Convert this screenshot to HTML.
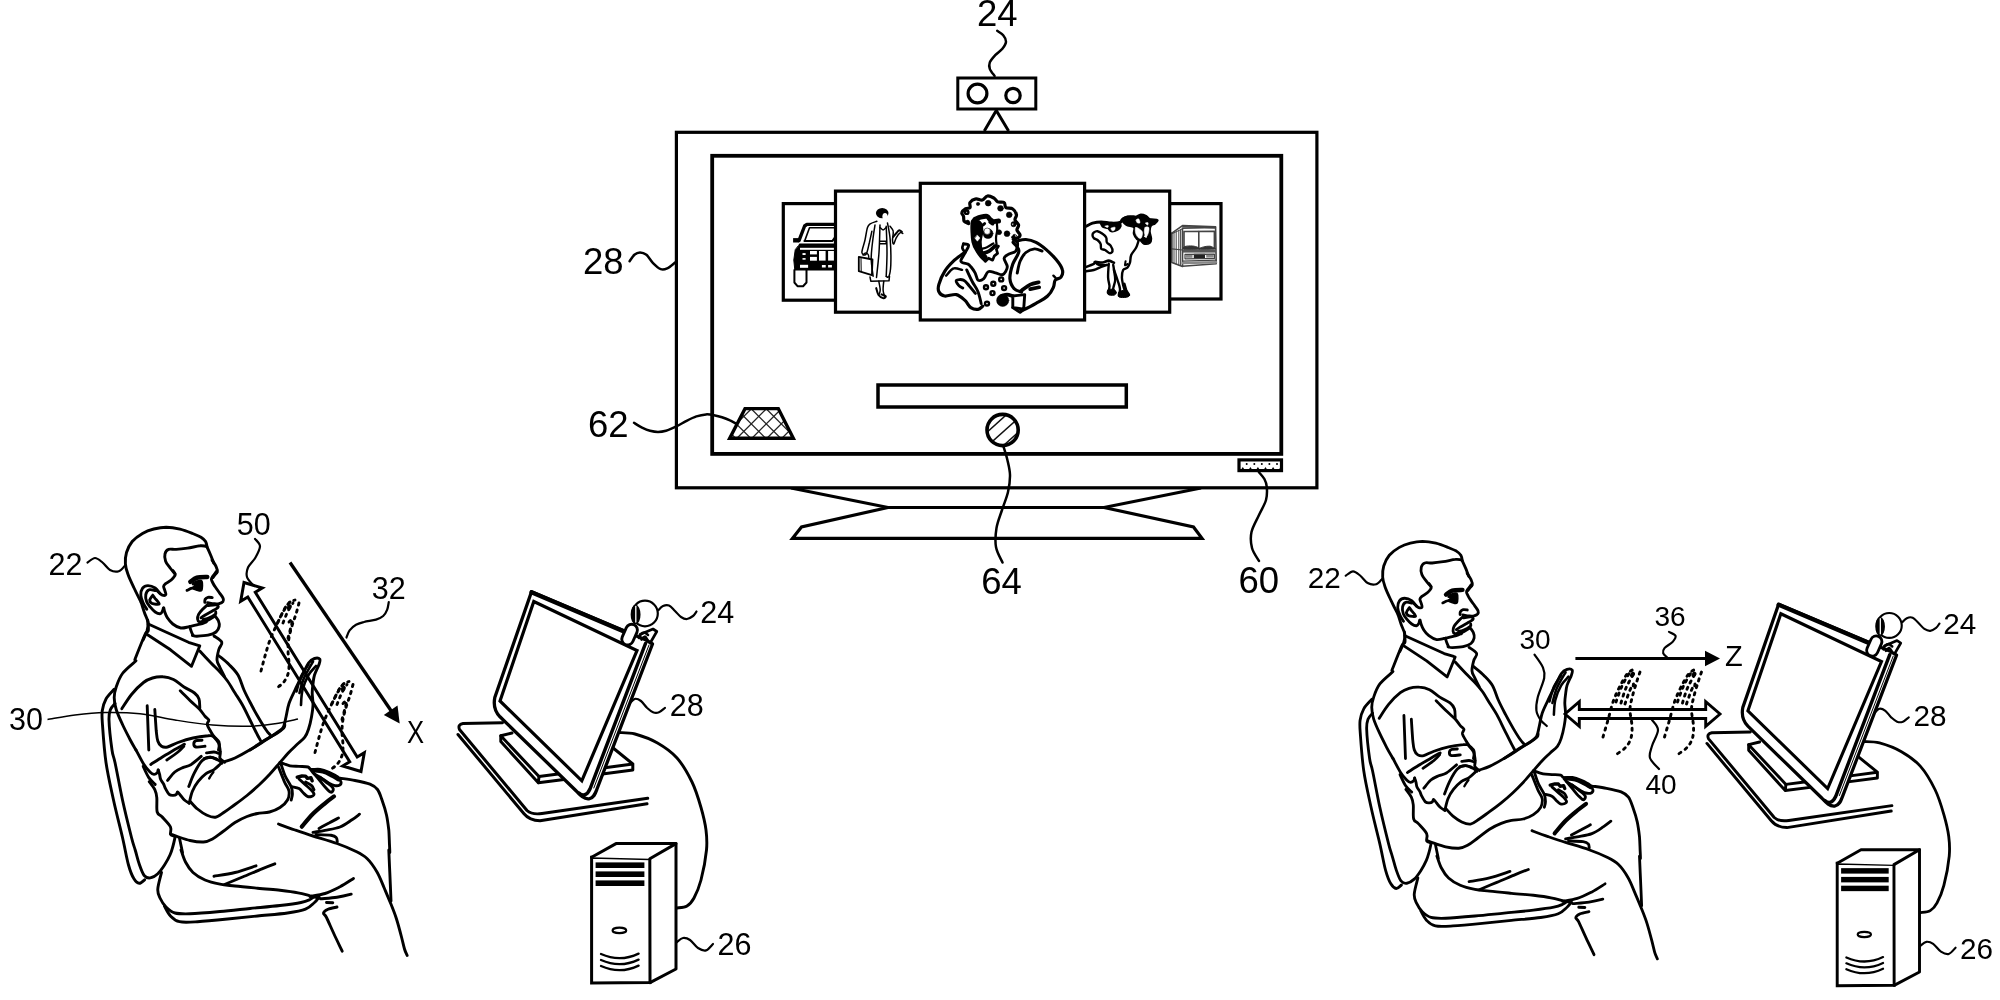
<!DOCTYPE html>
<html><head><meta charset="utf-8"><title>Figure</title>
<style>
html,body{margin:0;padding:0;background:#fff;}
body{width:2000px;height:1000px;overflow:hidden;}
svg{display:block;font-family:"Liberation Sans",sans-serif;will-change:transform;}
</style></head><body>
<svg width="2000" height="1000" viewBox="0 0 2000 1000">
<rect width="2000" height="1000" fill="#fff"/>
<g fill="none" stroke="#000" stroke-width="3.2" stroke-linejoin="miter">
<path d="M791 488L888 507.5L1104 507.5L1201 488"/>
<path d="M888 507.5L801.5 527L792.5 538.3L1202 538.3L1193.5 527L1104 507.5"/>
</g>
<rect x="676.4" y="132.3" width="640.5" height="355.5" fill="#fff" stroke="#000" stroke-width="3.2"/>
<rect x="712.2" y="155.8" width="569.1" height="298.1" fill="#fff" stroke="#000" stroke-width="3.8"/>
<g fill="none" stroke="#000" stroke-width="3">
<path d="M984.3 131L996.3 110.5L1008.6 131"/>
<rect x="957.8" y="78" width="78" height="31" fill="#fff"/>
<circle cx="977.5" cy="93.5" r="9.4" stroke-width="3.2"/>
<circle cx="1013" cy="95.5" r="7.2" stroke-width="3.2"/>
</g>
<g stroke-linecap="round" stroke-linejoin="round">
<rect x="783.3" y="203.6" width="60" height="96.6" fill="#fff" stroke="#000" stroke-width="3.2" stroke-linejoin="miter"/>
<rect x="1160" y="203.6" width="61" height="95.4" fill="#fff" stroke="#000" stroke-width="3.2" stroke-linejoin="miter"/>
<path d="M799 240.6L804.6 226L806.9 224.4L835 224.4" stroke="#000" stroke-width="3.4" fill="none"/><path d="M804.8 240.6L809.5 227.8L835 227.8" stroke="#000" stroke-width="1.6" fill="none"/><path d="M804.4 240.9L832.5 240.9L835 237.2" stroke="#000" stroke-width="2" fill="none"/><rect x="793.1" y="238.1" width="5.9" height="4.4" fill="#000" stroke="none"/><path d="M800 244.6L835 244.6" stroke="#000" stroke-width="2.4" fill="none"/><path d="M798.8 245.6L835 245.6L835 270L794.8 270L793.8 260L795.2 250Z" stroke="#000" stroke-width="1" fill="#000"/><rect x="810" y="251" width="6.9" height="3.4" fill="#fff" stroke="none"/><rect x="810" y="256.9" width="6.9" height="3.8" fill="#fff" stroke="none"/><rect x="819" y="251" width="6.6" height="9.6" fill="#fff" stroke="none"/><rect x="828.1" y="251" width="6.9" height="9.6" fill="#fff" stroke="none"/><rect x="802.5" y="253.1" width="3.1" height="1.9" fill="#fff" stroke="none"/><rect x="802.5" y="258.1" width="3.1" height="1.6" fill="#fff" stroke="none"/><rect x="800" y="264.8" width="8.1" height="3" fill="#fff" stroke="none"/><rect x="821.9" y="265" width="3.8" height="2.5" fill="#fff" stroke="none"/><rect x="828.1" y="265" width="3.8" height="2.5" fill="#fff" stroke="none"/><rect x="800" y="247.8" width="35" height="2" fill="#fff" stroke="none"/><path d="M794.4 270L794.4 282.5L797.5 286.2L803.1 286.2L806.5 282.5L806.5 270" stroke="#000" stroke-width="2" fill="none"/>
<path d="M1182.5 228.1L1215.6 227.5L1216.2 263.8L1182.5 266.2Z" stroke="#444" stroke-width="1.6" fill="none"/><path d="M1171.9 233.1L1182.5 225.6L1215.6 226.9" stroke="#444" stroke-width="1.6" fill="none"/><path d="M1182.8 226.5L1215 227.8" stroke="#444" stroke-width="1.2" fill="none"/><path d="M1171.9 233.1L1171.9 262.5L1182.5 266.5" stroke="#444" stroke-width="1.6" fill="none"/><path d="M1171.9 233.8L1182.5 228.8" stroke="#444" stroke-width="1" fill="none"/><path d="M1174 233.1L1174 263.1" stroke="#444" stroke-width="1" fill="none"/><path d="M1176.2 231.9L1176.2 264" stroke="#444" stroke-width="1" fill="none"/><path d="M1178.8 230.6L1178.8 265" stroke="#444" stroke-width="1" fill="none"/><path d="M1180.6 229.8L1180.6 265.6" stroke="#444" stroke-width="1" fill="none"/><path d="M1171.9 248.8L1182.5 250" stroke="#444" stroke-width="1.2" fill="none"/><path d="M1184 231.5L1214.4 231.2L1214.4 248.8L1184 249Z" stroke="#444" stroke-width="1.6" fill="none"/><path d="M1198.8 231.5L1198.8 248.8" stroke="#444" stroke-width="1.6" fill="none"/><path d="M1184 249C1181.7 248.6 1183.6 247 1185 246.5C1186.4 246 1190.3 245.8 1192.5 246C1194.7 246.2 1197.1 247 1198.1 247.5C1199.2 248 1201.1 248.8 1198.8 249C1196.4 249.2 1186.3 249.4 1184 249Z" stroke="#333" stroke-width="1" fill="#333"/><path d="M1199.4 249C1197.6 248.6 1202 247.3 1203.8 246.9C1205.5 246.4 1208.2 246 1210 246.2C1211.8 246.5 1213.6 247.7 1214.4 248.1C1215.1 248.6 1216.9 248.9 1214.4 249C1211.9 249.1 1201.1 249.4 1199.4 249Z" stroke="#333" stroke-width="1" fill="#333"/><rect x="1182.8" y="249.8" width="33.2" height="2.8" fill="#555" stroke="none"/><rect x="1193.8" y="253.8" width="11.2" height="5" fill="#222" stroke="none"/><path d="M1185 254.4L1214.4 254.1L1214.4 258.4L1185 258.8Z" stroke="#444" stroke-width="1.2" fill="none"/><rect x="1185.6" y="255" width="6.9" height="2.8" fill="#888" stroke="none"/><rect x="1206.2" y="254.8" width="7.5" height="2.8" fill="#888" stroke="none"/><path d="M1182.8 261.2L1216 260.2" stroke="#444" stroke-width="1.2" fill="none"/><path d="M1182.8 263.1L1216 262.2" stroke="#888" stroke-width="2.5" fill="none"/>
<rect x="835.5" y="191.1" width="90" height="121.1" fill="#fff" stroke="#000" stroke-width="3.2" stroke-linejoin="miter"/>
<rect x="1080" y="191.1" width="89.7" height="121.1" fill="#fff" stroke="#000" stroke-width="3.2" stroke-linejoin="miter"/>
<ellipse cx="882.2" cy="213.1" rx="6.3" ry="5.2" fill="#000"/><ellipse cx="885" cy="216.5" rx="2.6" ry="3.6" fill="#fff"/><path d="M876.9 221.2C875.8 221.7 871.8 222.7 870.2 223.8C868.7 224.8 868.4 224.8 867.5 227.5C866.6 230.2 865.9 235.8 865 240C864.1 244.2 861.7 250.2 861.9 252.5C862.1 254.8 865 255.7 866.2 254C867.5 252.3 868.4 246.3 869.4 242.5C870.3 238.7 871.5 233.1 871.9 231.2" stroke="#000" stroke-width="1.5" fill="none"/><path d="M875 225C874.6 227.5 873.4 234.4 872.8 240C872.1 245.6 871.2 252.7 871.2 258.8C871.3 264.8 872.8 273.3 873.1 276.2" stroke="#000" stroke-width="1.5" fill="none"/><path d="M880 225C879.8 229.6 879.6 243.8 879 252.5C878.4 261.2 876.9 273.3 876.5 277.5" stroke="#000" stroke-width="1.5" fill="none"/><path d="M886.2 226.2C886.4 230.6 887 244.2 887 252.5C887 260.8 886.4 272.3 886.2 276.2" stroke="#000" stroke-width="1.5" fill="none"/><path d="M887.5 223.1C888 225.9 889.7 233 890.2 240C890.8 247 891 259 890.8 265C890.5 271 889.8 274.3 889 276.2C888.2 278.2 886.7 276.5 886.2 276.5" stroke="#000" stroke-width="1.5" fill="none"/><path d="M870 276.9L870.8 281.2L889 280.8L889.5 276.2" stroke="#000" stroke-width="1.5" fill="none"/><path d="M880 227.5C880.5 227.9 882.1 230 883.1 230C884.2 230 885.7 227.9 886.2 227.5" stroke="#000" stroke-width="1.5" fill="none"/><path d="M880 241.2L886.2 241.2L886.2 243.8L880 243.8" stroke="#000" stroke-width="1.5" fill="none"/><path d="M858.8 256.9L872.5 259.5L871.9 275.2L858.8 271.2Z" stroke="#000" stroke-width="1.8" fill="none"/><path d="M861 258.1L861.2 271.2" stroke="#000" stroke-width="1" fill="none"/><path d="M863.1 255C863.4 254.7 864.2 253.2 865 253.1C865.8 253 867.5 253.6 868.1 254.4C868.8 255.1 868.6 257 868.8 257.5" stroke="#000" stroke-width="1.4" fill="none"/><path d="M890 226.2C890.5 227.1 892.8 229 893.2 231.2C893.7 233.5 892.4 237.9 892.5 240C892.6 242.1 893.1 244.4 893.8 244C894.4 243.6 895.2 239.6 896.2 237.8C897.3 235.9 898.9 233.5 900 232.8C901.1 232 902.3 233.3 902.8 233.4" stroke="#000" stroke-width="1.5" fill="none"/><path d="M893.1 236.9C893.8 236.1 895.8 233.6 896.9 232.5C897.9 231.4 898.5 230.4 899.4 230.2C900.2 230.1 901.5 231.6 901.9 231.9" stroke="#000" stroke-width="2" fill="none"/><path d="M878.8 281.2C879 282.7 880.2 287.7 880.2 290C880.2 292.3 879 294.4 878.8 295.2" stroke="#000" stroke-width="1.5" fill="none"/><path d="M883.8 281.2C883.6 282.7 883 287.5 883.1 290C883.2 292.5 884.3 295.4 884.5 296.5" stroke="#000" stroke-width="1.5" fill="none"/><path d="M876.2 288.1C876.6 289.3 877.3 293.3 878.5 295C879.7 296.7 882.3 298 883.5 298.2C884.7 298.5 886.1 296.9 885.8 296.2C885.4 295.6 882.2 294.7 881.5 294.4" stroke="#000" stroke-width="2" fill="none"/>
<path d="M1086.2 226.2C1087.3 225.7 1090 223.9 1092.5 223.1C1095 222.4 1098.1 221.9 1101.2 221.9C1104.4 221.9 1108.1 223 1111.2 223.1C1114.4 223.2 1118.1 223.1 1120 222.5C1121.9 221.9 1121.2 220.3 1122.5 219.4C1123.8 218.4 1125.4 217.3 1127.5 216.9C1129.6 216.5 1133.8 216.9 1135 216.9" stroke="#000" stroke-width="3" fill="none"/><path d="M1121.9 219.8C1122.1 218.3 1125.3 217.1 1127.5 216.6C1129.7 216.1 1132.9 217.2 1135 216.9C1137.1 216.5 1138.1 214.6 1140 214.4C1141.9 214.2 1144.6 214.9 1146.2 215.6C1147.9 216.4 1148.1 218 1150 218.8C1151.9 219.5 1156.9 219.2 1157.8 220C1158.6 220.8 1156.1 222.8 1155 223.8C1153.9 224.7 1152.1 224.6 1151.2 225.9C1150.4 227.1 1150 229.1 1150 231.2C1150 233.4 1151.5 236.8 1151.5 238.8C1151.5 240.7 1151.3 242.2 1150 243.1C1148.7 244 1145.4 244.5 1143.8 244C1142.1 243.5 1141.1 241 1140 240.2C1138.9 239.5 1138 240.5 1136.9 239.4C1135.8 238.3 1134 235.7 1133.5 233.8C1133 231.8 1135 228.9 1133.8 227.5C1132.5 226.1 1128.2 226.5 1126.2 225.2C1124.3 224 1121.7 221.2 1121.9 219.8Z" stroke="#000" stroke-width="1.5" fill="#000"/><path d="M1135.6 227.5C1136.4 226.9 1138.9 228.5 1140 229.4C1141.1 230.2 1142.3 231 1142.5 232.5C1142.7 234 1142 237.3 1141.2 238.1C1140.5 239 1139.1 238.3 1138.1 237.5C1137.2 236.7 1136 234.8 1135.6 233.1C1135.2 231.5 1134.9 228.1 1135.6 227.5Z" stroke="#fff" stroke-width="0.5" fill="#fff"/><path d="M1145 227.5C1145.7 226.6 1148.2 226.7 1148.8 227.5C1149.3 228.3 1148.9 230.9 1148.5 232.5C1148.1 234.1 1146.9 236.8 1146.2 236.9C1145.6 237 1144.6 234.7 1144.4 233.1C1144.2 231.6 1144.3 228.4 1145 227.5Z" stroke="#fff" stroke-width="0.5" fill="#fff"/><path d="M1136.2 220C1136.5 219.4 1138.1 218.5 1138.8 219C1139.4 219.5 1140.2 222.1 1140 222.8C1139.8 223.4 1137.9 223.2 1137.2 222.8C1136.6 222.3 1136 220.6 1136.2 220Z" stroke="#fff" stroke-width="0.5" fill="#fff"/><path d="M1145.6 223.1C1145.7 222.7 1147.8 222.4 1148.1 222.8C1148.4 223.1 1147.9 225.2 1147.5 225.2C1147.1 225.3 1145.5 223.5 1145.6 223.1Z" stroke="#fff" stroke-width="0.5" fill="#fff"/><path d="M1144.4 236.5C1144.2 236.1 1145.3 234.8 1145.6 235C1146 235.2 1146.7 237.2 1146.5 237.5C1146.3 237.8 1144.5 236.9 1144.4 236.5Z" stroke="#fff" stroke-width="0.5" fill="#fff"/><path d="M1138.8 240C1138.3 241.2 1137.5 245 1136.2 247.5C1135 250 1132.3 252.5 1131.2 255C1130.2 257.5 1130.6 260.4 1130 262.5C1129.4 264.6 1128.6 266.2 1127.5 267.5C1126.4 268.8 1124.1 268.3 1123.1 270C1122.2 271.7 1121.9 275 1121.9 277.5C1121.9 280 1122.6 282.7 1123.1 285C1123.6 287.3 1124.7 290.2 1125 291.2" stroke="#000" stroke-width="2.4" fill="none"/><path d="M1125.6 261.2C1125.5 261.9 1124.7 264.8 1125 265.2C1125.3 265.7 1127.1 264.2 1127.5 264" stroke="#000" stroke-width="2" fill="none"/><path d="M1100.6 222.8C1101 223.4 1101.9 226 1103.1 226.9C1104.4 227.8 1106.8 227.4 1108.1 228.1C1109.5 228.9 1109.7 231 1111.2 231.2C1112.8 231.5 1115.9 230.6 1117.5 229.8C1119.1 228.9 1120.2 227.4 1120.6 226.2C1121 225.1 1119.9 223.3 1119.8 222.8" stroke="#000" stroke-width="2.2" fill="#000"/><path d="M1105 226.2C1105.1 225.9 1107.7 225.4 1108.1 225.6C1108.6 225.8 1108.3 227.4 1107.8 227.5C1107.2 227.6 1104.9 226.6 1105 226.2Z" stroke="#fff" stroke-width="0.5" fill="#fff"/><path d="M1111.2 228.1C1111.8 227.6 1114.5 226.9 1115 227.2C1115.5 227.6 1114.9 229.7 1114.4 230.2C1113.9 230.8 1112.4 231 1111.9 230.6C1111.4 230.3 1110.7 228.7 1111.2 228.1Z" stroke="#fff" stroke-width="0.5" fill="#fff"/><path d="M1093.8 232.5C1094.6 231.9 1096 231 1097.5 231.2C1099 231.5 1101 232.7 1102.5 233.8C1104 234.8 1105.5 236 1106.2 237.5C1107 239 1106.1 241.1 1106.9 242.5C1107.6 243.9 1109.7 244.2 1110.6 245.6C1111.6 247.1 1112.7 250 1112.5 251.2C1112.3 252.5 1110.6 253.3 1109.4 253.1C1108.1 252.9 1106.4 250.7 1105 250C1103.6 249.3 1102 249.8 1101.2 248.8C1100.5 247.7 1101.2 245.2 1100.6 243.8C1100 242.3 1098.6 240.9 1097.5 240C1096.4 239.1 1094.6 239 1093.8 238.1C1092.9 237.3 1092.5 235.9 1092.5 235C1092.5 234.1 1092.9 233.1 1093.8 232.5Z" stroke="#000" stroke-width="2.4" fill="none"/><path d="M1086.2 266.9C1087.5 266.4 1092.2 264.6 1093.8 263.8C1095.2 262.9 1093.8 262.1 1095.2 261.9C1096.7 261.7 1100.2 262.7 1102.5 262.5C1104.8 262.3 1106.8 260.6 1108.8 260.6C1110.7 260.7 1113.1 262.4 1114 262.8" stroke="#000" stroke-width="2.6" fill="none"/><path d="M1086.2 271.2C1087.5 271 1091.2 270.7 1093.8 270C1096.2 269.3 1099.1 267.7 1101.2 266.9C1103.4 266 1105.9 265.3 1106.9 265" stroke="#000" stroke-width="2.4" fill="none"/><path d="M1095 262.2C1095.6 262.7 1096.8 264.6 1098.8 265C1100.7 265.4 1105.5 264.8 1106.9 264.8" stroke="#000" stroke-width="2" fill="#000"/><path d="M1108.8 263.8C1108.6 266 1108 273.8 1108.1 277.5C1108.2 281.2 1109.5 283.8 1109.5 286.2C1109.5 288.8 1108.4 291.5 1108.1 292.5" stroke="#000" stroke-width="2.4" fill="none"/><path d="M1113.2 265C1113.4 265.8 1113.7 267.5 1114 270C1114.3 272.5 1115.4 276.9 1115.2 280C1115.1 283.1 1113.2 286.7 1113.2 288.8C1113.3 290.8 1115.2 291.9 1115.6 292.5" stroke="#000" stroke-width="2.4" fill="none"/><path d="M1114 270C1114.6 271.7 1116.5 276.9 1117.5 280C1118.5 283.1 1119.8 286.1 1120 288.8C1120.2 291.4 1119.2 294.5 1119 295.6" stroke="#000" stroke-width="2.4" fill="none"/><path d="M1124.4 283.8C1124.7 284.8 1125.5 288.2 1126.2 290C1127 291.8 1128.5 294 1129 294.8" stroke="#000" stroke-width="2.4" fill="none"/><path d="M1107.8 290C1108.7 289.2 1112.4 288.9 1113.8 289.4C1115.1 289.9 1116 292.1 1116 293.1C1116 294.1 1115.1 295 1113.8 295.2C1112.4 295.5 1109 295.2 1108 294.4C1107 293.5 1106.8 290.8 1107.8 290Z" stroke="#000" stroke-width="1" fill="#000"/><path d="M1119 291.9C1120 290.8 1123.2 290.1 1125 290.6C1126.8 291.1 1129.2 293.9 1129.5 295C1129.8 296.1 1128.2 296.9 1126.5 297.2C1124.8 297.6 1120.2 297.8 1119 296.9C1117.8 296 1118 292.9 1119 291.9Z" stroke="#000" stroke-width="1" fill="#000"/>
<rect x="920.3" y="183.3" width="164.3" height="136.7" fill="#fff" stroke="#000" stroke-width="3.2" stroke-linejoin="miter"/>
<path d="M968.6 223.5C967.9 223.2 965.1 222.5 964.2 221.3C963.4 220.1 963.9 217.7 963.5 216.3C963.1 214.8 961.4 213.9 961.8 212.6C962.1 211.4 964.3 209.6 965.7 208.7C967.1 207.9 969.3 208.6 970 207.6C970.8 206.5 969.1 203.9 970 202.5C971 201 973.8 199.3 975.8 198.9C977.9 198.4 980.4 200.5 982.4 200C984.3 199.5 985.5 196.3 987.4 196C989.4 195.6 992.3 197.2 994 198.1C995.7 199.1 995.9 201 997.6 201.8C999.3 202.5 1002.8 201.5 1004.1 202.5C1005.5 203.4 1004.4 206.5 1005.9 207.6C1007.3 208.6 1011.1 207.8 1012.8 209C1014.6 210.2 1016.1 213 1016.5 214.8C1016.8 216.6 1014.6 218.2 1015 219.9C1015.4 221.6 1018.3 223.3 1018.6 225C1018.9 226.7 1016.7 228.4 1016.9 230C1017.1 231.7 1020.2 233.7 1020.1 235.1C1020 236.5 1017.7 237.9 1016.5 238.3C1015.3 238.7 1013.4 237.5 1012.8 237.3" stroke="#000" stroke-width="3.2" fill="none"/><circle cx="988.2" cy="203.2" r="2.9" fill="#000" stroke="#000" stroke-width="0.5"/><circle cx="1000.5" cy="208.3" r="2.9" fill="#000" stroke="#000" stroke-width="0.5"/><circle cx="1009.2" cy="214.8" r="2.9" fill="#000" stroke="#000" stroke-width="0.5"/><circle cx="1013.6" cy="224.2" r="2.6" fill="#000" stroke="#000" stroke-width="0.5"/><circle cx="999.1" cy="232.2" r="2.5" fill="#000" stroke="#000" stroke-width="0.5"/><circle cx="1007" cy="233.7" r="2.9" fill="#000" stroke="#000" stroke-width="0.5"/><circle cx="967.6" cy="222.1" r="2" fill="#000" stroke="#000" stroke-width="0.5"/><circle cx="978" cy="203.9" r="1.7" fill="#000" stroke="#000" stroke-width="0.5"/><circle cx="1014.3" cy="235.8" r="1.5" fill="#000" stroke="#000" stroke-width="0.5"/><circle cx="966.7" cy="212.2" r="1.7" fill="none" stroke="#000" stroke-width="2.4"/><circle cx="1012.8" cy="224.2" r="1" fill="#fff" stroke="#000" stroke-width="0.5"/><circle cx="1015.7" cy="235.8" r="0.9" fill="#fff" stroke="#000" stroke-width="0.5"/><path d="M971.4 222C972 218.3 974.1 219.7 975.8 220C977.5 220.3 980.3 221.7 981.4 223.6C982.5 225.5 982.7 228.7 982.6 231.6C982.5 234.5 981.1 238 981 241.2C980.9 244.4 981.2 248.1 982.2 250.8C983.2 253.5 986.9 255.8 987 257.2C987.1 258.6 984.6 259.9 983 259.2C981.4 258.5 979.2 256.1 977.4 253.2C975.6 250.3 973.2 247.2 972.2 242C971.2 236.8 970.8 225.7 971.4 222Z" stroke="#000" stroke-width="1.5" fill="#000"/><path d="M977.4 235.2L980 238L977.4 241.2L975 238.2Z" stroke="#fff" stroke-width="0.5" fill="#fff"/><path d="M975 219.2C975.9 218.9 978.6 217.7 980.6 217.2C982.6 216.7 985.4 216 987 216.4C988.6 216.8 989.1 218.7 990.2 219.6C991.3 220.5 992 221.4 993.4 221.6C994.8 221.8 997.7 221.1 998.6 221" stroke="#000" stroke-width="4.9" fill="none"/><path d="M979 222C979.5 222.5 981.3 224.9 982.2 225.2C983.1 225.5 984.2 223.9 984.6 223.6" stroke="#000" stroke-width="3" fill="none"/><path d="M990.2 222L992.6 223.6" stroke="#000" stroke-width="3.7" fill="none"/><circle cx="988" cy="233.6" r="5" fill="#000" stroke="#000" stroke-width="0.5"/><circle cx="987.2" cy="231.2" r="3.2" fill="#fff" stroke="#000" stroke-width="0.5"/><path d="M982.6 253.2C983.6 252.9 986.5 252.6 988.6 251.4C990.7 250.2 993.9 246.9 995 246" stroke="#000" stroke-width="3.7" fill="none"/><path d="M981.4 249C982.3 248.7 985 248.1 987 247.2C989 246.3 992.3 244.1 993.4 243.4" stroke="#000" stroke-width="2.2" fill="none"/><path d="M996.8 222C996.8 223.3 997.4 227.3 997.2 230C997.1 232.7 996 235.3 996 238C995.9 240.7 996.6 244.7 996.8 246" stroke="#000" stroke-width="2.2" fill="none"/><path d="M982.2 258L985.4 261.4L988.6 258.2L992.6 260.2L994.4 255.8L997.6 253.4L996.4 249.4L998.4 246.2" stroke="#000" stroke-width="2.7" fill="none"/><path d="M963.5 243.8C964.4 244.1 968.3 243.8 968.6 245.3C968.9 246.7 966.5 249.9 965.3 252.5C964 255.2 960.5 259.3 960.9 261.2C961.3 263.2 966.2 263.2 967.9 264.1C969.6 265.1 969.8 265.6 971.1 267C972.3 268.5 974 270.7 975.1 272.8C976.3 275 976.6 279.1 978 280.1C979.5 281.1 982.1 280 983.8 278.6C985.5 277.2 986.2 272.6 988.2 271.7C990.1 270.7 993 272.3 995.4 272.8C997.8 273.3 1000.7 275.5 1002.7 274.6C1004.7 273.6 1007.1 269.7 1007.3 267C1007.6 264.3 1003.9 260.5 1004.1 258.3C1004.3 256.2 1006.5 255.5 1008.5 254.3C1010.4 253.1 1014.2 253 1015.7 251.1C1017.2 249.1 1017.9 244.6 1017.5 242.7C1017 240.7 1013.8 240 1013.1 239.5" stroke="#000" stroke-width="2.9" fill="none"/><path d="M963.5 243.8C963.3 244.5 962.1 246.7 962.4 248.2C962.6 249.6 964.8 251.8 965.3 252.5" stroke="#000" stroke-width="2.7" fill="none"/><path d="M963.5 253.3C961.8 254.6 956.5 258.2 953.4 261.2C950.2 264.3 947.1 267.5 944.7 271.4C942.2 275.3 939.8 281.1 938.9 284.4C937.9 287.8 937.9 289.8 938.9 291.7C939.8 293.6 941.8 295.6 944.7 296C947.6 296.5 952.9 293.9 956.3 294.6C959.6 295.3 962.5 298.2 965 300.4C967.4 302.6 968.6 306.1 970.8 307.6C972.9 309.1 976 309.6 978 309.4C980 309.1 981.9 306.7 982.7 306.2" stroke="#000" stroke-width="3.2" fill="none"/><path d="M966.7 269.9C967.6 271.9 970.3 277.9 972.2 281.5C974.1 285.2 976.5 288 978 291.7C979.5 295.4 980.7 301.6 981.2 303.6" stroke="#000" stroke-width="2.9" fill="none"/><path d="M962.8 288.1C962.1 287.7 960 286.9 958.9 285.6C957.8 284.3 955.5 281.3 956.3 280.4C957 279.5 961.3 279.2 963.5 280.1C965.7 281 967.3 283.7 969.3 285.9C971.3 288.1 974.4 292.2 975.4 293.4" stroke="#000" stroke-width="2.9" fill="none"/><path d="M946.1 275.7C947.3 274.5 950.7 269.4 953.4 268.5C956 267.5 960.6 269.7 962.1 269.9" stroke="#000" stroke-width="2.4" fill="none"/><path d="M1016 241.2C1017.7 240.9 1022.6 239.3 1025.9 239.5C1029.2 239.7 1032.7 240.7 1036 242.4C1039.4 244.1 1042.8 246.7 1046.2 249.6C1049.6 252.5 1053.6 256.4 1056.3 259.8C1059.1 263.2 1061.7 267 1062.4 269.9C1063.2 272.8 1062.2 275.5 1061 277.2C1059.8 278.9 1056.4 278.4 1055.2 280.1C1053.9 281.8 1054.7 284.7 1053.4 287.3C1052.2 290 1050.5 293.4 1047.6 296C1044.7 298.7 1040.4 300.8 1036 303.3C1031.7 305.8 1024 309.6 1021.5 310.8" stroke="#000" stroke-width="3.2" fill="none"/><path d="M1017.2 273.1C1017.7 271.1 1018.6 264.7 1020.1 261.2C1021.5 257.8 1023.5 254.6 1025.9 252.5C1028.3 250.5 1031.9 249.1 1034.6 248.9C1037.3 248.7 1040.9 250.7 1042.1 251.1" stroke="#000" stroke-width="2.9" fill="none"/><path d="M1013.1 242.4C1014.1 243.8 1019 247.4 1018.9 251.1C1018.9 254.7 1014.3 259.5 1012.8 264.1C1011.3 268.7 1009.7 274.5 1009.9 278.6C1010.2 282.7 1012.3 286.6 1014.3 288.8C1016.2 291 1020.3 291.4 1021.5 292" stroke="#000" stroke-width="3.2" fill="none"/><path d="M1021.5 290.5C1023 289.6 1027.4 286.1 1030.2 284.7C1033.1 283.3 1037.2 282.7 1038.7 282.3" stroke="#000" stroke-width="3.7" fill="none"/><path d="M1030.2 289.1L1039.2 287.3" stroke="#000" stroke-width="3.7" fill="none"/><path d="M1053.4 275.7L1055.6 277.9" stroke="#000" stroke-width="2.4" fill="none"/><circle cx="986" cy="287.3" r="2" fill="none" stroke="#000" stroke-width="2.4"/><circle cx="993.3" cy="283.7" r="2" fill="none" stroke="#000" stroke-width="2.4"/><circle cx="1001.2" cy="279.4" r="2" fill="none" stroke="#000" stroke-width="2.4"/><circle cx="992.5" cy="293.1" r="2" fill="none" stroke="#000" stroke-width="2.4"/><circle cx="1004.1" cy="288.1" r="2" fill="none" stroke="#000" stroke-width="2.4"/><circle cx="987" cy="303.6" r="2" fill="none" stroke="#000" stroke-width="2.4"/><circle cx="1002.7" cy="300.4" r="6.1" fill="#000" stroke="#000" stroke-width="0.5"/><path d="M1001.2 296C1002.2 295.8 1005.1 294.6 1007 294.6C1009 294.6 1011.9 295.8 1012.8 296" stroke="#000" stroke-width="3.7" fill="none"/><path d="M1012.8 296L1024.7 294.6L1023.7 309.1L1012.8 307.6Z" stroke="#000" stroke-width="2.9" fill="#fff"/><path d="M1012.8 307.6L1020.1 312.3L1023.7 309.1" stroke="#000" stroke-width="2.9" fill="none"/>
</g>
<rect x="878" y="385" width="248.3" height="22" fill="#fff" stroke="#000" stroke-width="3.5"/>
<defs><clipPath id="trapclip"><path d="M745 408.6L778.3 408.6L793.3 438.2L729.7 438.2Z"/></clipPath></defs>
<g clip-path="url(#trapclip)" stroke="#222" stroke-width="1.3" fill="none">
<path d="M672.4 405L712.4 445"/>
<path d="M695.2 405L655.2 445"/>
<path d="M687.4 405L727.4 445"/>
<path d="M710.2 405L670.2 445"/>
<path d="M702.4 405L742.4 445"/>
<path d="M725.2 405L685.2 445"/>
<path d="M717.4 405L757.4 445"/>
<path d="M740.2 405L700.2 445"/>
<path d="M732.4 405L772.4 445"/>
<path d="M755.2 405L715.2 445"/>
<path d="M747.4 405L787.4 445"/>
<path d="M770.2 405L730.2 445"/>
<path d="M762.4 405L802.4 445"/>
<path d="M785.2 405L745.2 445"/>
<path d="M777.4 405L817.4 445"/>
<path d="M800.2 405L760.2 445"/>
<path d="M792.4 405L832.4 445"/>
<path d="M815.2 405L775.2 445"/>
<path d="M807.4 405L847.4 445"/>
<path d="M830.2 405L790.2 445"/>
<path d="M822.4 405L862.4 445"/>
<path d="M845.2 405L805.2 445"/>
</g>
<path d="M745 408.6L778.3 408.6L793.3 438.2L729.7 438.2Z" fill="none" stroke="#000" stroke-width="3.4"/>
<defs><clipPath id="c64"><circle cx="1002.6" cy="430" r="15.6"/></clipPath></defs>
<g clip-path="url(#c64)" stroke="#111" stroke-width="1.5" fill="none">
<path d="M978.5 439.8L1015.7 406.4"/>
<path d="M985.5 447.6L1022.7 414.2"/>
<path d="M992.5 455.4L1029.7 422"/>
</g>
<circle cx="1002.6" cy="430" r="15.6" fill="none" stroke="#000" stroke-width="3.6"/>
<rect x="1239" y="459.9" width="42.5" height="10.7" fill="#fff" stroke="#000" stroke-width="3.2"/>
<circle cx="1246.7" cy="464.1" r="1" fill="#000"/>
<circle cx="1254.3" cy="464.1" r="1" fill="#000"/>
<circle cx="1261.8" cy="464.1" r="1" fill="#000"/>
<circle cx="1269.4" cy="464.1" r="1" fill="#000"/>
<circle cx="1277" cy="464.1" r="1" fill="#000"/>
<path d="M1241.2 469.5L1242.8 467L1244.4 469.5Z" fill="#000"/>
<path d="M1248.8 469.5L1250.4 467L1252 469.5Z" fill="#000"/>
<path d="M1256.3 469.5L1257.9 467L1259.5 469.5Z" fill="#000"/>
<path d="M1263.9 469.5L1265.5 467L1267.1 469.5Z" fill="#000"/>
<path d="M1271.5 469.5L1273.1 467L1274.7 469.5Z" fill="#000"/>
<path d="M1279 469.5L1280.6 467L1282.2 469.5Z" fill="#000"/>
<g fill="none" stroke="#000" stroke-width="2.5" stroke-linecap="round">
<path d="M997.2 30.8C998.2 31.5 1001.7 33.4 1003.2 35.2C1004.7 37 1006.1 39.3 1006 41.6C1005.9 43.9 1004.2 46.5 1002.4 48.8C1000.6 51.1 997.3 52.9 995.2 55.2C993.1 57.5 990.7 60.1 989.8 62.4C988.9 64.7 989 66.5 989.8 68.8C990.6 71.1 993.8 74.8 994.6 76"/>
<path d="M634 422.8C635.3 423.6 639.3 426.3 642 427.6C644.7 428.9 647.3 430.1 650 430.8C652.7 431.5 655.3 432 658 432C660.7 432 662.9 431.7 666 430.8C669.1 429.9 673.1 428 676.4 426.4C679.7 424.8 682.7 422.9 686 421.2C689.3 419.5 693.1 417.5 696.4 416.4C699.7 415.3 703.1 414.6 706 414.4C708.9 414.2 711.3 414.7 714 415.2C716.7 415.7 719.3 416.3 722 417.2C724.7 418.1 727.7 419.3 730 420.4C732.3 421.4 735 423 736 423.5"/>
<path d="M1003.5 446.5C1004.1 448.8 1006.3 455.2 1007.4 460C1008.5 464.8 1009.9 469.7 1010 475C1010.1 480.3 1009.3 486.2 1008 492C1006.7 497.8 1003.9 504 1002 510C1000.1 516 997.5 521.8 996.5 528C995.5 534.2 995 541.2 996 547C997 552.8 1001.4 559.9 1002.5 562.5"/>
<path d="M1259 472.3C1259.9 473.4 1263.1 476.6 1264.4 479C1265.7 481.4 1266.5 483.5 1266.8 487C1267.1 490.5 1267.3 495.3 1266 500C1264.7 504.7 1261.4 509.7 1259 515C1256.6 520.3 1252.7 526.5 1251.5 532C1250.3 537.5 1250.8 543.2 1252 548C1253.2 552.8 1257.8 558.8 1259 561"/>
<path d="M629.6 261.2C630.4 260.1 632.7 256.3 634.4 254.8C636.1 253.3 638 252.4 640 252.4C642 252.4 644.3 253.1 646.4 254.8C648.5 256.5 650.4 260.4 652.8 262.8C655.2 265.2 658.4 268.3 660.8 269.2C663.2 270.1 664.8 269.5 667.2 268.4C669.6 267.3 673.7 263.6 675 262.6"/>
</g>
<g font-size="36.5" fill="#000" text-anchor="middle">
<text x="997.3" y="26">24</text>
<text x="603.2" y="274">28</text>
<text x="608.2" y="436.8">62</text>
<text x="1001.6" y="594">64</text>
<text x="1258.8" y="593">60</text>
</g>
<g fill="none" stroke="#000" stroke-linecap="round" stroke-linejoin="round">
<path d="M141.2 602.5C140 600 136 592.3 133.8 587.5C131.5 582.7 129.1 577.7 127.8 573.8C126.4 569.8 125.6 567.3 125.4 563.8C125.2 560.2 125.4 556.2 126.5 552.5C127.6 548.8 129.6 544.7 132.2 541.5C134.9 538.3 138.9 535.5 142.5 533.4C146.1 531.3 149.8 530 153.8 529C157.7 528 161.9 527.2 166.2 527.2C170.6 527.3 175.6 528.1 180 529.1C184.4 530.2 189 532.1 192.5 533.5C196 534.9 198.8 535.9 201 537.2C203.2 538.6 204.6 539.8 205.6 541.5C206.6 543.2 206.9 546.3 207.1 547.2" stroke-width="2.9"/>
<path d="M207.1 547.2C207.7 548.5 209.5 552.4 210.6 555C211.7 557.6 213.2 561.8 213.8 563.1" stroke-width="2.9"/>
<path d="M212 560C212.7 561.1 215.1 564.4 216 566.4C216.9 568.4 217.7 570.4 217.3 572C216.8 573.6 214.2 574.8 213.2 576C212.2 577.2 211.3 577.9 211.4 579.2C211.4 580.5 212.7 582.5 213.4 584C214.2 585.5 214.9 586.4 216 588C217.1 589.6 218.8 591.9 220 593.6C221.2 595.3 222.7 597.1 223.2 598.4C223.7 599.7 223.5 600.7 222.9 601.6C222.2 602.5 220.6 603.2 219.2 603.6C217.8 604 216.3 603.9 214.4 603.8C212.5 603.6 208.7 602.8 207.6 602.6" stroke-width="2.9"/>
<path d="M216.4 572L212.8 577.2" stroke-width="3.6"/>
<path d="M205.6 546.2C204.7 546.2 203 545.4 200 545.8C197 546.1 191.5 547.5 187.5 548.1C183.5 548.7 179.4 549.2 176.2 549.4C173.1 549.6 170.4 548.6 168.5 549.4C166.6 550.1 165.5 551.8 165 553.8C164.5 555.7 164.8 559 165.6 561.2C166.4 563.5 168.2 565.4 169.8 567.5C171.3 569.6 174.1 572.7 175 573.8" stroke-width="2.9"/>
<path d="M172.8 570.4C173.2 571.1 175.5 573.2 175.2 574.8C174.9 576.4 172.8 578.5 171.2 580C169.6 581.5 166.9 582.5 165.6 583.6C164.3 584.7 163.7 585.3 163.6 586.4C163.5 587.5 164.4 589 164.8 590.4C165.2 591.8 166.2 593.8 165.8 594.6C165.4 595.4 163.6 595.6 162.4 595.2C161.2 594.8 159.6 593 158.4 592C157.2 591 155.7 589.5 155.2 589" stroke-width="2.9"/>
<path d="M160 593.6C159.2 592.7 157.2 589.3 155.2 588C153.2 586.7 150.1 585.6 148 585.6C145.9 585.6 143.8 586.6 142.6 588.2C141.4 589.8 140.7 592.7 140.8 595.2C140.9 597.7 142.2 600.9 143.2 603.2C144.2 605.5 146.2 608.2 146.8 609.2" stroke-width="2.9"/>
<path d="M155.2 590.6C154.2 590.4 150.5 589.1 149 589.8C147.4 590.4 146.2 592.6 145.8 594.6C145.4 596.5 145.8 599.5 146.6 601.6C147.3 603.7 149 605.5 150.4 607.2C151.8 608.9 153.6 610.9 155.2 612C156.8 613.1 158.8 613.9 160 613.8C161.2 613.7 161.8 612.3 162.4 611.4C163 610.4 163.2 608.6 163.4 608" stroke-width="2.9"/>
<path d="M152.8 595.2C152.3 596 149.9 598.6 149.8 600C149.6 601.4 150.4 602.7 152 603.4C153.6 604 158.7 604.8 159.2 604C159.7 603.2 156.3 600 155.2 598.6C154.1 597.1 153.2 595.8 152.8 595.2" stroke-width="2.9"/>
<path d="M163.8 608C164 608.7 164.2 610.4 164.8 612C165.4 613.6 166 615.8 167.4 617.8C168.7 619.8 170.6 622.3 172.8 624C175 625.7 178 627.6 180.8 628C183.6 628.4 186.4 627.2 189.6 626.6C192.8 625.9 197.2 625 200 624.2C202.8 623.4 205.3 622.2 206.4 621.8" stroke-width="2.9"/>
<path d="M215.2 616C215.7 616.8 217.7 619.1 218.4 620.8C219.1 622.5 219.6 624.5 219.2 626.4C218.8 628.3 217.9 630.5 216 632C214.1 633.5 211.2 634.5 208 635.2C204.8 635.9 199.4 636.1 196.8 636.2C194.2 636.2 193.1 635.5 192.4 635.4" stroke-width="2.9"/>
<path d="M189.6 626.6C189.9 627.3 190.6 629.7 191.2 631.2C191.8 632.7 192.7 634.7 193 635.4" stroke-width="2.9"/>
<path d="M207.4 604.8C206.5 605.6 203.9 608 202.4 609.6C200.9 611.2 199.4 612.8 198.6 614.4C197.8 616 197.5 618 197.6 619.2C197.7 620.4 198.4 621.5 199.4 621.8C200.3 622.1 202.6 621.1 203.2 621" stroke-width="2.9"/>
<path d="M208 605.6C209.3 605.5 214.3 604.5 216 604.8C217.7 605.1 218.7 606.1 218.1 607.2C217.4 608.3 214.2 609.9 212 611.2C209.8 612.5 206.6 614.1 204.8 615.2C203 616.3 201.6 617.3 201 617.8" stroke-width="2.9"/>
<path d="M203.2 619.4C204 619.2 206 619.2 208 618.4C210 617.6 213.9 615.5 215.2 614.4C216.5 613.3 215.6 612.4 215.7 612" stroke-width="2.9"/>
<path d="M202.6 621.8C203.5 621.5 206 621.1 208 620.2C210 619.2 213.5 616.8 214.6 616.2" stroke-width="2.9"/>
<path d="M190.4 581.8C191.5 581.1 194 578.6 196.8 577.8C199.6 577 205.5 577.1 207.2 577" stroke-width="4.6"/>
<path d="M187 590.4C187.9 590 190.4 588.6 192 588.2C193.6 587.7 196 587.7 196.8 587.6" stroke-width="2.8"/>
<path d="M192.4 584C192.7 583.2 195.2 581.5 196.8 581C198.4 580.5 201.2 579.4 202 581C202.8 582.5 202.6 588.9 201.8 590.4C200.9 591.9 198.4 590.6 196.8 590.2C195.2 589.8 192.7 588.8 192.4 588C192.1 587.2 195.2 586.3 195.2 585.6C195.2 584.9 192.1 584.8 192.4 584Z" stroke-width="1.5" fill="#000"/>
<path d="M204.8 602.4C204.9 601.9 204.6 600.2 205.1 599.4C205.7 598.5 206.8 597.6 208 597.3C209.2 597 211.5 597.5 212.2 597.6" stroke-width="2.9"/>
<path d="M141.2 602.5C141.8 604.2 143.2 609.2 144.4 612.5C145.5 615.8 147.7 619.4 148.1 622.5C148.5 625.6 147.7 628.3 146.9 631.2C146 634.2 143.8 638.5 143.1 640" stroke-width="2.9"/>
<path d="M147.7 620.2C147.8 622 148.8 628.4 148.3 630.8C147.9 633.1 147.2 629.7 145 634.5C142.8 639.3 136.5 655.5 134.8 659.7" stroke-width="2.9"/>
<path d="M136 660.8C133.8 662.9 125.8 669.1 122.5 673.5C119.2 677.9 117.6 683 116.2 687C114.8 691 114.2 693.8 114.2 697.5C114.2 701.2 114.8 705 116.2 709.5C117.6 714 120.2 719.5 122.5 724.5C124.8 729.5 127.8 735.2 130 739.5C132.2 743.8 135 748.2 136 750" stroke-width="2.9"/>
<path d="M148.3 624L167.5 632.7L188.5 642.3L198.2 645.3" stroke-width="2.9"/>
<path d="M146.8 634.2L170.5 649.8L191.5 666.3L199.8 645.8" stroke-width="2.9"/>
<path d="M214 636C215.3 637 221 640 221.8 642.3C222.6 644.5 219.6 646.5 218.8 649.5C218 652.5 216.8 657 217 660C217.2 663 218.8 664.8 220 667.5C221.2 670.2 223.8 675 224.5 676.5" stroke-width="2.9"/>
<path d="M199.8 651C201.6 653 207.6 659.5 211 663C214.4 666.5 217.2 669 220 672C222.8 675 225 677.5 227.5 681C230 684.5 232.5 689 235 693C237.5 697 240 700.5 242.5 705C245 709.5 247.5 715 250 720C252.5 725 255.6 731.4 257.5 735C259.4 738.6 260.6 740.6 261.2 741.8" stroke-width="2.9"/>
<path d="M218.5 655.5C220.2 657 225.8 661.2 229 664.5C232.2 667.8 235.5 670.8 238 675C240.5 679.2 241.8 685 244 690C246.2 695 249 700.2 251.5 705C254 709.8 256.5 714.2 259 718.5C261.5 722.8 264.6 727.8 266.5 730.5C268.4 733.2 269.6 734.2 270.2 735" stroke-width="2.9"/>
<path d="M121.8 708.8C123.4 706.4 127.9 698.9 131.5 694.5C135.1 690.1 140 685.2 143.5 682.5C147 679.8 149.2 679 152.5 678C155.8 677 159.5 676.5 163 676.8C166.5 677 170 677.8 173.5 679.5C177 681.2 180.5 684.8 184 687C187.5 689.2 192 691 194.5 693C197 695 198.1 696.5 199 699C199.9 701.5 199.6 706.5 199.8 708" stroke-width="2.9"/>
<path d="M180.2 690.8C181.9 692.4 186.8 697.4 190 700.5C193.2 703.6 197.2 706.9 199.8 709.5C202.2 712.1 203.5 714.5 205 716.2C206.5 718 208.4 718.6 208.8 720C209.1 721.4 206.9 722.5 207.2 724.5C207.6 726.5 209.9 730 211 732C212.1 734 212.6 734.8 214 736.5C215.4 738.2 218.5 740.2 219.2 742.5C220 744.8 218.6 748.8 218.5 750" stroke-width="2.9"/>
<path d="M147.2 705.8L148.8 750" stroke-width="2.9"/>
<path d="M154.8 709.5C155 713 155.8 725.2 156.2 730.5C156.8 735.8 156.9 738.4 157.8 741C158.6 743.6 159.9 745.2 161.5 746.2C163.1 747.2 164.8 747.6 167.5 747C170.2 746.4 173.8 744 178 742.5C182.2 741 188 739.1 193 738C198 736.9 204.8 736.1 208 735.8C211.2 735.4 211.8 735.8 212.5 735.8" stroke-width="2.9"/>
<path d="M202 740.2C201 740.3 197.4 740.1 196 740.7C194.6 741.3 193.8 743 193.8 744C193.8 745 194.1 746.6 196 747C197.9 747.4 203.5 746.4 205 746.2" stroke-width="2.9"/>
<path d="M250 750C252 748.8 257 745.8 262 742.5C267 739.2 276.4 733.2 280 730.5C283.6 727.8 282.8 728.2 283.8 726C284.8 723.8 285.1 720.8 286 717C286.9 713.2 287.5 708 289 703.5C290.5 699 292.8 694.8 295 690C297.2 685.2 300.2 679.5 302.5 675C304.8 670.5 306.5 665.8 308.5 663C310.5 660.2 312.6 659.1 314.5 658.5C316.4 657.9 319 658.2 319.8 659.2C320.5 660.2 319.9 661.9 319 664.5C318.1 667.1 315.5 671.8 314.5 675C313.5 678.2 313.4 681 313 684C312.6 687 312.2 689.5 312.2 693C312.2 696.5 313.1 701 313 705C312.9 709 312.2 713 311.5 717C310.8 721 309.6 725.9 308.5 729.3C307.4 732.7 306.6 734.8 304.8 737.2C302.9 739.8 299.9 741.8 297.2 744.3C294.6 746.8 291.9 749.2 289 752.2C286.1 755.3 281.5 760.8 280 762.5" stroke-width="2.9"/>
<path d="M299.5 693C300.2 690.5 301.8 683.2 304 678C306.2 672.8 311.5 664.2 313 661.5" stroke-width="2.6"/>
<path d="M301 705C301.2 702.5 301.2 695 302.5 690C303.8 685 306.2 679 308.5 675C310.8 671 314.8 667.5 316 666" stroke-width="2.6"/>
<path d="M296.5 691.5C297.2 689 299 681 301 676.5C303 672 307.2 666.5 308.5 664.5" stroke-width="2.6"/>
<path d="M114.2 689.2C112.9 690.9 108 695.4 106 699C104 702.6 102.8 706.7 102.2 711C101.7 715.3 101.9 716.4 102.5 725C103.1 733.6 104.2 750 106 762.5C107.8 775 110.8 787.5 113.5 800C116.2 812.5 120 826.7 122.5 837.5C125 848.3 126.6 858.2 128.5 865C130.4 871.8 131.9 875.5 133.8 878.5C135.6 881.5 137.5 883.1 139.3 883.3C141.1 883.5 143.8 880.3 144.7 879.7" stroke-width="2.9"/>
<path d="M115 703.5C114.2 704.5 111.5 706.8 110.5 709.5C109.5 712.2 108.8 713.2 109 720C109.2 726.8 111 742.9 112 750C113 757.1 113.2 754.2 115 762.5C116.8 770.8 119.8 787.5 122.5 800C125.2 812.5 129.4 829.2 131.5 837.5C133.6 845.8 133.9 845.5 135.2 850C136.6 854.5 137.8 860 139.3 864.2C140.8 868.5 142.4 873.2 144.2 875.5C146.1 877.8 148 878.2 150.2 877.9C152.5 877.6 155.4 875.9 157.8 873.7C160.1 871.6 162.4 868.2 164.5 865C166.6 861.8 168.8 857.7 170.2 854.5C171.6 851.3 172.2 848.8 173 846C173.8 843.2 174.7 838.9 175 837.5" stroke-width="2.9"/>
<path d="M136 750C137.3 752.3 141.3 760.3 143.6 764C145.9 767.7 148.3 770.3 150 772C151.7 773.7 152.8 774.3 154 774.4C155.2 774.5 156.5 773.5 157.2 772.8C157.9 772.1 158 770.5 158.2 770" stroke-width="2.9"/>
<path d="M158.2 770C158.4 770.7 159.2 772.9 159.6 774.4C160 775.9 159.9 777.6 160.6 779.2C161.2 780.8 162.8 782.5 163.6 784C164.4 785.5 164.3 786.3 165.2 788C166.1 789.7 167.9 793.2 169.2 794.4C170.5 795.6 172 795.4 173.2 795.4C174.4 795.4 175.7 795 176.4 794.4C177.1 793.8 176.9 791.9 177.6 792C178.3 792.1 179.3 793.9 180.4 795.2C181.5 796.5 182.9 798.7 184.4 800C185.9 801.3 188.4 802.7 189.2 803.2" stroke-width="2.9"/>
<path d="M143.2 766.4C144.1 768.3 146.8 774.6 148.8 777.6C150.8 780.6 154.1 783.3 155.2 784.4" stroke-width="2.9"/>
<path d="M149.2 781.6C150.1 782.9 153.5 786.9 154.8 789.6C156.1 792.3 156.4 793.9 156.8 797.6C157.2 801.3 156.3 808.8 157.2 812C158.1 815.2 159.8 814.3 162 816.8C164.2 819.3 169.1 824 170.5 827C171.9 830 169.8 833 170.5 834.5C171.2 836 174.2 836 175 836.3" stroke-width="2.9"/>
<path d="M150.8 764.4C152.7 763.2 158 759.7 162 757.2C166 754.7 171.1 751.8 174.8 749.6C178.5 747.4 182.8 745.1 184.4 744.2" stroke-width="2.9"/>
<path d="M166.8 760C168.7 758.7 175.2 754.3 178 752C180.8 749.7 182.8 747.2 183.8 746.2" stroke-width="2.9"/>
<path d="M167.6 780.4C168.8 779 172.3 774.1 174.8 772C177.3 769.9 180.1 768.8 182.8 767.6C185.5 766.4 187.7 766.7 190.8 764.8C193.9 762.9 199.5 757.8 201.2 756.4" stroke-width="2.9"/>
<path d="M188.8 786.4C189.7 784.3 191.8 777.9 194 773.6C196.2 769.3 199.3 763.5 202 760.8C204.7 758.1 207.3 757.3 210 757.2C212.7 757.1 216 759 218 760C220 761 221.3 762.7 222 763.2" stroke-width="2.9"/>
<path d="M189.2 803.2C189.7 801.2 190.9 794.8 192.4 791.2C193.9 787.6 195.7 784.5 198 781.6C200.3 778.7 203.3 775.6 206 773.6C208.7 771.6 211.6 771.2 214 769.6C216.4 768 219.3 764.9 220.4 764" stroke-width="2.9"/>
<path d="M204.4 758.4C205.5 758.2 208.8 757.1 210.8 757.2C212.8 757.3 215.5 758.5 216.4 758.8" stroke-width="2.9"/>
<path d="M209.2 778.4C209.6 777.7 210.9 775.5 211.6 774.4C212.3 773.3 213.1 772.4 213.4 772" stroke-width="2.4"/>
<path d="M212.5 735.5C213.5 736.8 217.2 740.2 218.5 743C219.8 745.8 220.1 749.5 220.3 752C220.6 754.5 219.3 756.6 220 758.3C220.7 760 223.8 761.6 224.5 762.2" stroke-width="2.9"/>
<path d="M206.5 752.9C207.8 752.8 211.9 751.9 214 752C216.1 752.1 218.4 753.2 219.2 753.5" stroke-width="2.9"/>
<path d="M224.5 761.8C226.2 761.1 230.8 760 235 758C239.2 756 245 752.8 250 749.8C255 746.8 260.5 742.8 265 740C269.5 737.2 273.9 735.2 277 733.2C280.1 731.2 282.4 729.4 283.8 728C285.1 726.6 284.6 725.5 284.8 725" stroke-width="2.9"/>
<path d="M190.3 801.5C191.5 802.8 194.8 806.8 197.5 809C200.2 811.2 203.5 813.6 206.5 815C209.5 816.4 212.5 817.8 215.5 817.2C218.5 816.8 221.2 814.1 224.5 812C227.8 809.9 231.2 807.2 235 804.5C238.8 801.8 243 798.8 247 795.5C251 792.2 255.2 788.5 259 785C262.8 781.5 266 778.2 269.5 774.5C273 770.8 278.2 764.5 280 762.5" stroke-width="2.9"/>
<path d="M278.5 767C279.5 769.5 282.8 778 284.5 782C286.2 786 288.5 788 289 791C289.5 794 289 797.2 287.5 800C286 802.8 283 805.5 280 807.5C277 809.5 273.2 811 269.5 812C265.8 813 261.2 812.8 257.5 813.5C253.8 814.2 250.8 815 247 816.5C243.2 818 239 820 235 822.5C231 825 226.8 828.8 223 831.5C219.2 834.2 215.8 837.2 212.5 839C209.2 840.8 207.2 841.8 203.5 842C199.8 842.2 194.2 841.4 190 840.5C185.8 839.6 181 837.8 178 836.8C175 835.8 173 834.9 172 834.5" stroke-width="2.9"/>
<path d="M281 762.8C282.5 763.3 287 765.2 290 765.8C293 766.4 296 766.2 299 766.4C302 766.6 306 766.5 308 767C310 767.5 309 769 311 769.4C313 769.8 317 768.9 320 769.4C323 769.9 326 771.1 329 772.4C332 773.7 336 775.6 338 777.2C340 778.8 340.7 780.7 341 782C341.3 783.3 340.8 784.4 339.8 785C338.8 785.6 336.8 785.9 335 785.6C333.2 785.3 331.5 784.6 329 783.2C326.5 781.8 322.5 778.8 320 777.2C317.5 775.6 315.5 774.8 314 773.6C312.5 772.4 311.5 770.6 311 770" stroke-width="2.9"/>
<path d="M312.8 770.3C314.5 770.5 319.8 770.6 323 771.5C326.2 772.4 329.4 774.2 332 775.5C334.6 776.8 337.5 778.7 338.6 779.3" stroke-width="4.2"/>
<path d="M314 773.6C315 774.8 318 778.4 320 780.8C322 783.2 324.2 786.1 326 788C327.8 789.9 329.6 791.9 330.8 792.2C332 792.5 333.1 790.7 333.3 789.8C333.5 788.9 333.2 788.1 332 786.8C330.8 785.5 328 783.6 326 782C324 780.4 321 778 320 777.2" stroke-width="2.9"/>
<path d="M297.2 777.2L302 776L305.6 776.1L307.4 778.4L311 777.8L312.2 780.8" stroke-width="3.4"/>
<path d="M299 779C300 779.9 303 782.6 305 784.4C307 786.2 309.5 788.2 311 789.8C312.5 791.4 313.9 792.9 314 794C314.1 795.1 312.7 796 311.6 796.4C310.5 796.8 308.8 797 307.4 796.4C306 795.8 304.6 794.1 303.2 792.8C301.8 791.5 300.8 789.6 299 788.6C297.2 787.6 293.5 787.1 292.4 786.8" stroke-width="2.9"/>
<path d="M305.6 782C306.6 782.6 310.2 784.3 311.6 785.6C313 786.9 313.6 789.1 314 789.8" stroke-width="2.9"/>
<path d="M281 764C281.7 766 283.5 772.2 285.2 776C286.9 779.8 290 783.8 291.2 786.8C292.4 789.8 292.4 791.8 292.4 794C292.4 796.2 291.4 799 291.2 800" stroke-width="2.9"/>
<path d="M340 778.2C342.5 778.6 350 779.5 355 780.5C360 781.5 366.2 782.8 370 784.2C373.8 785.8 375.5 786.9 377.5 789.5C379.5 792.1 380.5 795.8 382 800C383.5 804.2 385.4 810 386.5 815C387.6 820 388.2 825 388.8 830C389.2 835 389.3 841.2 389.5 845C389.7 848.8 389.8 851.2 389.8 852.5" stroke-width="2.9"/>
<path d="M388.8 850C388.9 853.8 389.4 864 389.8 872.5C390.2 881 390.8 896.2 391 901" stroke-width="2.9"/>
<path d="M301.8 826.7C303.6 824.6 309.1 817.7 313 813.8C316.9 809.9 321.5 806.2 325 803.3C328.5 800.4 332.5 797.5 334 796.4" stroke-width="4.2"/>
<path d="M319 828.5C320.8 827.5 326.2 824.5 329.5 822.8C332.8 821 337 818.8 338.5 818" stroke-width="2.9"/>
<path d="M313 832.4C315 832 320.5 831.2 325 830.3C329.5 829.4 335.5 828.8 340 827C344.5 825.2 348.8 821.9 352 819.8C355.2 817.7 358.2 815.2 359.5 814.2" stroke-width="2.9"/>
<path d="M278.5 824C281.2 825 289.2 828 295 830C300.8 832 306 833.8 313 836C320 838.2 330 841 337 843.5C344 846 350 848.5 355 851C360 853.5 363.3 855 367 858.5C370.7 862 374.2 867.2 377 872C379.8 876.8 381.8 882.3 384 887.5C386.2 892.7 388.4 897.8 390.5 903C392.6 908.2 394.7 913.3 396.5 919C398.3 924.7 400.2 932 401.5 937C402.8 942 403.6 945.9 404.5 949C405.4 952.1 406.8 954.4 407.2 955.5" stroke-width="2.9"/>
<path d="M316 834.5C318.5 834.6 327.6 834.8 331 835.2C334.4 835.8 335.2 836.4 336.2 837.5C337.3 838.6 337.1 841 337.3 841.7" stroke-width="2.9"/>
<path d="M179.5 838.2L182.5 852.5" stroke-width="2.9"/>
<path d="M181 850C181.8 852 183.5 858.2 185.5 862C187.5 865.8 189.8 869.5 193 872.5C196.2 875.5 200.5 878 205 880C209.5 882 215 883.2 220 884.2C225 885.2 228.8 885.3 235 886C241.2 886.7 250 887.5 257.5 888.2C265 889 273.2 889.5 280 890.2C286.8 891 293 891.8 298 892.8C303 893.7 306.5 894.9 310 895.8C313.5 896.6 317.5 897.6 319 898" stroke-width="2.9"/>
<path d="M214 876.2C217.5 875.6 228 874.2 235 872.5C242 870.8 252.5 866.9 256 865.8" stroke-width="2.9"/>
<path d="M224.5 884.5C227.5 883.2 236.2 879.6 242.5 877C248.8 874.4 256.6 871 262 868.8C267.4 866.5 272.6 864.6 274.8 863.8" stroke-width="2.9"/>
<path d="M161.5 872.5C160.9 875.2 158 884.8 157.8 889C157.5 893.2 158.6 895 160 898C161.4 901 163.5 904.5 166 907C168.5 909.5 171 911.9 175 913C179 914.1 182.5 914 190 913.8C197.5 913.5 210 912.4 220 911.5C230 910.6 240 909.5 250 908.5C260 907.5 271.5 906.5 280 905.5C288.5 904.5 296 903.5 301 902.5C306 901.5 307.8 900.5 310 899.5C312.2 898.5 313.8 897 314.5 896.5" stroke-width="2.9"/>
<path d="M164.5 906.2C165.5 907.9 168 913.4 170.5 916C173 918.6 175 920.8 179.5 921.7C184 922.7 189.5 922.2 197.5 921.7C205.5 921.2 217.5 920 227.5 919C237.5 918 247.5 917 257.5 916C267.5 915 279.5 914.1 287.5 913C295.5 911.9 301 911 305.5 909.2C310 907.5 312.2 904.5 314.5 902.5C316.8 900.5 318.2 898.1 319 897.2" stroke-width="2.9"/>
<path d="M310 896.5C312.5 896 320 895.1 325 893.5C330 891.9 335.2 889.2 340 886.8C344.8 884.2 351.2 879.9 353.5 878.5" stroke-width="2.9"/>
<path d="M320.5 898.8C323.2 898.5 331.9 898 337 897.2C342.1 896.5 348.9 894.8 351.2 894.2" stroke-width="2.9"/>
<path d="M326.5 902.5L332.8 902.8" stroke-width="2.9"/>
<path d="M337 907C335.5 907.4 330.2 908.2 328 909.2C325.8 910.2 323.8 911.6 323.5 913C323.2 914.4 324.8 914 326.5 917.5C328.2 921 331.4 928.4 334 934C336.6 939.6 340.9 948.4 342.2 951.2" stroke-width="2.9"/>
<path d="M618.5 732.5C621.2 732.8 628.5 732.2 635 734C641.5 735.8 650.5 739 657.5 743C664.5 747 671.2 751.5 677 758C682.8 764.5 688 773.8 692 782C696 790.2 698.7 799.5 701 807.5C703.3 815.5 705.1 822.9 706 830C706.9 837.1 707.3 841.7 706.5 850C705.7 858.3 703.1 872 701 880C698.9 888 696.3 893.7 694 898C691.7 902.3 689.8 904.3 687 906C684.2 907.7 678.7 907.7 677 908" stroke-width="2.9"/>
<path d="M502.5 722.7L463 723.5Q457.5 724.5 459.5 729.5L527 810.5Q532 815 542 813.5L647.7 798.3" stroke-width="3"/>
<path d="M458 734.5L524 813.8Q529.5 820.5 540 820.8L647 803.8" stroke-width="3"/>
<path d="M512 733L500.8 735.8L539 776.5L562 773.5" stroke-width="3"/>
<path d="M500.8 735.8L500.8 741.5L538.3 782.8L539 776.5M538.3 782.8L566 779.3" stroke-width="3"/>
<path d="M612.5 747.5L632.8 764L603 768M632.8 764L632.8 770L600.5 774.2" stroke-width="3"/>
<path d="M531.5 591.8L494.8 697.5Q492.5 709 500 716.8L576 790.7C580 795 584 799.5 589 798.8C594 798 595.5 793 597 789L652.5 644L646 640Z" fill="#fff" stroke-width="3.3"/>
<path d="M531.5 592.3L624 631.5" stroke-width="4.4"/>
<path d="M579 793C583 796.5 587 795.5 590 789L645.5 643.5" stroke-width="3.5"/>
<path d="M593.8 788L649 645" stroke-width="1"/>
<path d="M533.8 601.5L637 650.5L581.8 780.8L500 701Z" stroke-width="3.2" stroke-linejoin="miter"/>
<circle cx="645" cy="613.5" r="12.8" fill="#fff" stroke-width="2.2"/>
<ellipse cx="635.6" cy="614.6" rx="4.2" ry="9" fill="#000" stroke-width="1.5"/>
<path d="M635.8 606.5L635.8 622" stroke="#fff" stroke-width="1.3"/>
<rect x="-5.8" y="-10.8" width="11.6" height="21.6" rx="5.8" ry="5.8" transform="translate(629.6 634.6) rotate(24)" fill="#fff" stroke-width="2.9"/>
<path d="M640 634.5L653 629L656.8 631.5L650.5 642.5" stroke-width="2.7"/>
<path d="M639 638C639.2 637.4 639.6 635.4 640.5 634.5C641.4 633.6 643.2 632.4 644.5 632.5C645.8 632.6 647.4 634.6 648 635" stroke-width="2.6"/>
<path d="M641.5 639.5C642.1 639 644 636.4 645 636.5C646 636.6 647.1 639.4 647.5 640" stroke-width="2.6"/>
<path d="M591.6 857.3L649.8 858.8L650 982.6L591.6 983Z" fill="#fff" stroke-width="3" stroke-linejoin="miter"/>
<path d="M591.6 857.3L616 843.6L676 843.6L649.8 858.8" fill="#fff" stroke-width="3" stroke-linejoin="round"/>
<path d="M676 843.6L676 969L650 982.6" fill="none" stroke-width="3" stroke-linejoin="round"/>
<rect x="595.6" y="862.4" width="48.8" height="5.6" fill="#000" stroke="none"/>
<rect x="595.6" y="871.4" width="48.8" height="5.6" fill="#000" stroke="none"/>
<rect x="595.6" y="880.4" width="48.8" height="5.6" fill="#000" stroke="none"/>
<ellipse cx="619.4" cy="930.4" rx="6.8" ry="2.7" stroke-width="2.2"/>
<path d="M601 954Q620 962.5 638.6 953.6" stroke-width="2.3"/>
<path d="M601 960Q620 968.5 638.6 959.6" stroke-width="2.3"/>
<path d="M601 966Q620 974.5 638.6 965.6" stroke-width="2.3"/>
<path d="M658.5 610C659.2 609.3 661.2 606.8 663 606C664.8 605.2 667 604.7 669 605.5C671 606.3 673 609.1 675 611C677 612.9 679 615.7 681 617C683 618.3 685 619.2 687 619C689 618.8 691.4 617.2 693 616C694.6 614.8 695.9 612.2 696.5 611.5" stroke-width="2.2"/>
<path d="M630.5 702.5C631.2 701.9 633.2 699 635 698.8C636.8 698.5 639 699.5 641 701C643 702.5 645 705.9 647 707.8C649 709.6 651 711.5 653 712.2C655 713 657 713 659 712.2C661 711.5 664 708.5 665 707.8" stroke-width="2.2"/>
<path d="M677 942C678 941.3 680.8 938.3 683 938C685.2 937.7 687.5 938.3 690 940C692.5 941.7 695.3 946.3 698 948C700.7 949.7 703.5 951.1 706 950.4C708.5 949.7 711.8 945.1 713 944" stroke-width="2.2"/>
<path d="M87.5 562.5C88.8 561.8 92.5 558 95 558C97.5 558 100 560.5 102.5 562.5C105 564.5 107.3 568.5 110 570C112.7 571.5 116.2 572 118.8 571.2C121.2 570.5 124 566.5 125 565.5" stroke-width="2.2"/>
</g>
<g fill="none" stroke="#000" stroke-linecap="round" stroke-linejoin="round" transform="translate(1260.4 27.3) scale(0.975)">
<path d="M141.2 602.5C140 600 136 592.3 133.8 587.5C131.5 582.7 129.1 577.7 127.8 573.8C126.4 569.8 125.6 567.3 125.4 563.8C125.2 560.2 125.4 556.2 126.5 552.5C127.6 548.8 129.6 544.7 132.2 541.5C134.9 538.3 138.9 535.5 142.5 533.4C146.1 531.3 149.8 530 153.8 529C157.7 528 161.9 527.2 166.2 527.2C170.6 527.3 175.6 528.1 180 529.1C184.4 530.2 189 532.1 192.5 533.5C196 534.9 198.8 535.9 201 537.2C203.2 538.6 204.6 539.8 205.6 541.5C206.6 543.2 206.9 546.3 207.1 547.2" stroke-width="2.9"/>
<path d="M207.1 547.2C207.7 548.5 209.5 552.4 210.6 555C211.7 557.6 213.2 561.8 213.8 563.1" stroke-width="2.9"/>
<path d="M212 560C212.7 561.1 215.1 564.4 216 566.4C216.9 568.4 217.7 570.4 217.3 572C216.8 573.6 214.2 574.8 213.2 576C212.2 577.2 211.3 577.9 211.4 579.2C211.4 580.5 212.7 582.5 213.4 584C214.2 585.5 214.9 586.4 216 588C217.1 589.6 218.8 591.9 220 593.6C221.2 595.3 222.7 597.1 223.2 598.4C223.7 599.7 223.5 600.7 222.9 601.6C222.2 602.5 220.6 603.2 219.2 603.6C217.8 604 216.3 603.9 214.4 603.8C212.5 603.6 208.7 602.8 207.6 602.6" stroke-width="2.9"/>
<path d="M216.4 572L212.8 577.2" stroke-width="3.6"/>
<path d="M205.6 546.2C204.7 546.2 203 545.4 200 545.8C197 546.1 191.5 547.5 187.5 548.1C183.5 548.7 179.4 549.2 176.2 549.4C173.1 549.6 170.4 548.6 168.5 549.4C166.6 550.1 165.5 551.8 165 553.8C164.5 555.7 164.8 559 165.6 561.2C166.4 563.5 168.2 565.4 169.8 567.5C171.3 569.6 174.1 572.7 175 573.8" stroke-width="2.9"/>
<path d="M172.8 570.4C173.2 571.1 175.5 573.2 175.2 574.8C174.9 576.4 172.8 578.5 171.2 580C169.6 581.5 166.9 582.5 165.6 583.6C164.3 584.7 163.7 585.3 163.6 586.4C163.5 587.5 164.4 589 164.8 590.4C165.2 591.8 166.2 593.8 165.8 594.6C165.4 595.4 163.6 595.6 162.4 595.2C161.2 594.8 159.6 593 158.4 592C157.2 591 155.7 589.5 155.2 589" stroke-width="2.9"/>
<path d="M160 593.6C159.2 592.7 157.2 589.3 155.2 588C153.2 586.7 150.1 585.6 148 585.6C145.9 585.6 143.8 586.6 142.6 588.2C141.4 589.8 140.7 592.7 140.8 595.2C140.9 597.7 142.2 600.9 143.2 603.2C144.2 605.5 146.2 608.2 146.8 609.2" stroke-width="2.9"/>
<path d="M155.2 590.6C154.2 590.4 150.5 589.1 149 589.8C147.4 590.4 146.2 592.6 145.8 594.6C145.4 596.5 145.8 599.5 146.6 601.6C147.3 603.7 149 605.5 150.4 607.2C151.8 608.9 153.6 610.9 155.2 612C156.8 613.1 158.8 613.9 160 613.8C161.2 613.7 161.8 612.3 162.4 611.4C163 610.4 163.2 608.6 163.4 608" stroke-width="2.9"/>
<path d="M152.8 595.2C152.3 596 149.9 598.6 149.8 600C149.6 601.4 150.4 602.7 152 603.4C153.6 604 158.7 604.8 159.2 604C159.7 603.2 156.3 600 155.2 598.6C154.1 597.1 153.2 595.8 152.8 595.2" stroke-width="2.9"/>
<path d="M163.8 608C164 608.7 164.2 610.4 164.8 612C165.4 613.6 166 615.8 167.4 617.8C168.7 619.8 170.6 622.3 172.8 624C175 625.7 178 627.6 180.8 628C183.6 628.4 186.4 627.2 189.6 626.6C192.8 625.9 197.2 625 200 624.2C202.8 623.4 205.3 622.2 206.4 621.8" stroke-width="2.9"/>
<path d="M215.2 616C215.7 616.8 217.7 619.1 218.4 620.8C219.1 622.5 219.6 624.5 219.2 626.4C218.8 628.3 217.9 630.5 216 632C214.1 633.5 211.2 634.5 208 635.2C204.8 635.9 199.4 636.1 196.8 636.2C194.2 636.2 193.1 635.5 192.4 635.4" stroke-width="2.9"/>
<path d="M189.6 626.6C189.9 627.3 190.6 629.7 191.2 631.2C191.8 632.7 192.7 634.7 193 635.4" stroke-width="2.9"/>
<path d="M207.4 604.8C206.5 605.6 203.9 608 202.4 609.6C200.9 611.2 199.4 612.8 198.6 614.4C197.8 616 197.5 618 197.6 619.2C197.7 620.4 198.4 621.5 199.4 621.8C200.3 622.1 202.6 621.1 203.2 621" stroke-width="2.9"/>
<path d="M208 605.6C209.3 605.5 214.3 604.5 216 604.8C217.7 605.1 218.7 606.1 218.1 607.2C217.4 608.3 214.2 609.9 212 611.2C209.8 612.5 206.6 614.1 204.8 615.2C203 616.3 201.6 617.3 201 617.8" stroke-width="2.9"/>
<path d="M203.2 619.4C204 619.2 206 619.2 208 618.4C210 617.6 213.9 615.5 215.2 614.4C216.5 613.3 215.6 612.4 215.7 612" stroke-width="2.9"/>
<path d="M202.6 621.8C203.5 621.5 206 621.1 208 620.2C210 619.2 213.5 616.8 214.6 616.2" stroke-width="2.9"/>
<path d="M190.4 581.8C191.5 581.1 194 578.6 196.8 577.8C199.6 577 205.5 577.1 207.2 577" stroke-width="4.6"/>
<path d="M187 590.4C187.9 590 190.4 588.6 192 588.2C193.6 587.7 196 587.7 196.8 587.6" stroke-width="2.8"/>
<path d="M192.4 584C192.7 583.2 195.2 581.5 196.8 581C198.4 580.5 201.2 579.4 202 581C202.8 582.5 202.6 588.9 201.8 590.4C200.9 591.9 198.4 590.6 196.8 590.2C195.2 589.8 192.7 588.8 192.4 588C192.1 587.2 195.2 586.3 195.2 585.6C195.2 584.9 192.1 584.8 192.4 584Z" stroke-width="1.5" fill="#000"/>
<path d="M204.8 602.4C204.9 601.9 204.6 600.2 205.1 599.4C205.7 598.5 206.8 597.6 208 597.3C209.2 597 211.5 597.5 212.2 597.6" stroke-width="2.9"/>
<path d="M141.2 602.5C141.8 604.2 143.2 609.2 144.4 612.5C145.5 615.8 147.7 619.4 148.1 622.5C148.5 625.6 147.7 628.3 146.9 631.2C146 634.2 143.8 638.5 143.1 640" stroke-width="2.9"/>
<path d="M147.7 620.2C147.8 622 148.8 628.4 148.3 630.8C147.9 633.1 147.2 629.7 145 634.5C142.8 639.3 136.5 655.5 134.8 659.7" stroke-width="2.9"/>
<path d="M136 660.8C133.8 662.9 125.8 669.1 122.5 673.5C119.2 677.9 117.6 683 116.2 687C114.8 691 114.2 693.8 114.2 697.5C114.2 701.2 114.8 705 116.2 709.5C117.6 714 120.2 719.5 122.5 724.5C124.8 729.5 127.8 735.2 130 739.5C132.2 743.8 135 748.2 136 750" stroke-width="2.9"/>
<path d="M148.3 624L167.5 632.7L188.5 642.3L198.2 645.3" stroke-width="2.9"/>
<path d="M146.8 634.2L170.5 649.8L191.5 666.3L199.8 645.8" stroke-width="2.9"/>
<path d="M214 636C215.3 637 221 640 221.8 642.3C222.6 644.5 219.6 646.5 218.8 649.5C218 652.5 216.8 657 217 660C217.2 663 218.8 664.8 220 667.5C221.2 670.2 223.8 675 224.5 676.5" stroke-width="2.9"/>
<path d="M199.8 651C201.6 653 207.6 659.5 211 663C214.4 666.5 217.2 669 220 672C222.8 675 225 677.5 227.5 681C230 684.5 232.5 689 235 693C237.5 697 240 700.5 242.5 705C245 709.5 247.5 715 250 720C252.5 725 255.6 731.4 257.5 735C259.4 738.6 260.6 740.6 261.2 741.8" stroke-width="2.9"/>
<path d="M218.5 655.5C220.2 657 225.8 661.2 229 664.5C232.2 667.8 235.5 670.8 238 675C240.5 679.2 241.8 685 244 690C246.2 695 249 700.2 251.5 705C254 709.8 256.5 714.2 259 718.5C261.5 722.8 264.6 727.8 266.5 730.5C268.4 733.2 269.6 734.2 270.2 735" stroke-width="2.9"/>
<path d="M121.8 708.8C123.4 706.4 127.9 698.9 131.5 694.5C135.1 690.1 140 685.2 143.5 682.5C147 679.8 149.2 679 152.5 678C155.8 677 159.5 676.5 163 676.8C166.5 677 170 677.8 173.5 679.5C177 681.2 180.5 684.8 184 687C187.5 689.2 192 691 194.5 693C197 695 198.1 696.5 199 699C199.9 701.5 199.6 706.5 199.8 708" stroke-width="2.9"/>
<path d="M180.2 690.8C181.9 692.4 186.8 697.4 190 700.5C193.2 703.6 197.2 706.9 199.8 709.5C202.2 712.1 203.5 714.5 205 716.2C206.5 718 208.4 718.6 208.8 720C209.1 721.4 206.9 722.5 207.2 724.5C207.6 726.5 209.9 730 211 732C212.1 734 212.6 734.8 214 736.5C215.4 738.2 218.5 740.2 219.2 742.5C220 744.8 218.6 748.8 218.5 750" stroke-width="2.9"/>
<path d="M147.2 705.8L148.8 750" stroke-width="2.9"/>
<path d="M154.8 709.5C155 713 155.8 725.2 156.2 730.5C156.8 735.8 156.9 738.4 157.8 741C158.6 743.6 159.9 745.2 161.5 746.2C163.1 747.2 164.8 747.6 167.5 747C170.2 746.4 173.8 744 178 742.5C182.2 741 188 739.1 193 738C198 736.9 204.8 736.1 208 735.8C211.2 735.4 211.8 735.8 212.5 735.8" stroke-width="2.9"/>
<path d="M202 740.2C201 740.3 197.4 740.1 196 740.7C194.6 741.3 193.8 743 193.8 744C193.8 745 194.1 746.6 196 747C197.9 747.4 203.5 746.4 205 746.2" stroke-width="2.9"/>
<path d="M250 750C252 748.8 257 745.8 262 742.5C267 739.2 276.4 733.2 280 730.5C283.6 727.8 282.8 728.2 283.8 726C284.8 723.8 285.1 720.8 286 717C286.9 713.2 287.5 708 289 703.5C290.5 699 292.8 694.8 295 690C297.2 685.2 300.2 679.5 302.5 675C304.8 670.5 306.5 665.8 308.5 663C310.5 660.2 312.6 659.1 314.5 658.5C316.4 657.9 319 658.2 319.8 659.2C320.5 660.2 319.9 661.9 319 664.5C318.1 667.1 315.5 671.8 314.5 675C313.5 678.2 313.4 681 313 684C312.6 687 312.2 689.5 312.2 693C312.2 696.5 313.1 701 313 705C312.9 709 312.2 713 311.5 717C310.8 721 309.6 725.9 308.5 729.3C307.4 732.7 306.6 734.8 304.8 737.2C302.9 739.8 299.9 741.8 297.2 744.3C294.6 746.8 291.9 749.2 289 752.2C286.1 755.3 281.5 760.8 280 762.5" stroke-width="2.9"/>
<path d="M299.5 693C300.2 690.5 301.8 683.2 304 678C306.2 672.8 311.5 664.2 313 661.5" stroke-width="2.6"/>
<path d="M301 705C301.2 702.5 301.2 695 302.5 690C303.8 685 306.2 679 308.5 675C310.8 671 314.8 667.5 316 666" stroke-width="2.6"/>
<path d="M296.5 691.5C297.2 689 299 681 301 676.5C303 672 307.2 666.5 308.5 664.5" stroke-width="2.6"/>
<path d="M114.2 689.2C112.9 690.9 108 695.4 106 699C104 702.6 102.8 706.7 102.2 711C101.7 715.3 101.9 716.4 102.5 725C103.1 733.6 104.2 750 106 762.5C107.8 775 110.8 787.5 113.5 800C116.2 812.5 120 826.7 122.5 837.5C125 848.3 126.6 858.2 128.5 865C130.4 871.8 131.9 875.5 133.8 878.5C135.6 881.5 137.5 883.1 139.3 883.3C141.1 883.5 143.8 880.3 144.7 879.7" stroke-width="2.9"/>
<path d="M115 703.5C114.2 704.5 111.5 706.8 110.5 709.5C109.5 712.2 108.8 713.2 109 720C109.2 726.8 111 742.9 112 750C113 757.1 113.2 754.2 115 762.5C116.8 770.8 119.8 787.5 122.5 800C125.2 812.5 129.4 829.2 131.5 837.5C133.6 845.8 133.9 845.5 135.2 850C136.6 854.5 137.8 860 139.3 864.2C140.8 868.5 142.4 873.2 144.2 875.5C146.1 877.8 148 878.2 150.2 877.9C152.5 877.6 155.4 875.9 157.8 873.7C160.1 871.6 162.4 868.2 164.5 865C166.6 861.8 168.8 857.7 170.2 854.5C171.6 851.3 172.2 848.8 173 846C173.8 843.2 174.7 838.9 175 837.5" stroke-width="2.9"/>
<path d="M136 750C137.3 752.3 141.3 760.3 143.6 764C145.9 767.7 148.3 770.3 150 772C151.7 773.7 152.8 774.3 154 774.4C155.2 774.5 156.5 773.5 157.2 772.8C157.9 772.1 158 770.5 158.2 770" stroke-width="2.9"/>
<path d="M158.2 770C158.4 770.7 159.2 772.9 159.6 774.4C160 775.9 159.9 777.6 160.6 779.2C161.2 780.8 162.8 782.5 163.6 784C164.4 785.5 164.3 786.3 165.2 788C166.1 789.7 167.9 793.2 169.2 794.4C170.5 795.6 172 795.4 173.2 795.4C174.4 795.4 175.7 795 176.4 794.4C177.1 793.8 176.9 791.9 177.6 792C178.3 792.1 179.3 793.9 180.4 795.2C181.5 796.5 182.9 798.7 184.4 800C185.9 801.3 188.4 802.7 189.2 803.2" stroke-width="2.9"/>
<path d="M143.2 766.4C144.1 768.3 146.8 774.6 148.8 777.6C150.8 780.6 154.1 783.3 155.2 784.4" stroke-width="2.9"/>
<path d="M149.2 781.6C150.1 782.9 153.5 786.9 154.8 789.6C156.1 792.3 156.4 793.9 156.8 797.6C157.2 801.3 156.3 808.8 157.2 812C158.1 815.2 159.8 814.3 162 816.8C164.2 819.3 169.1 824 170.5 827C171.9 830 169.8 833 170.5 834.5C171.2 836 174.2 836 175 836.3" stroke-width="2.9"/>
<path d="M150.8 764.4C152.7 763.2 158 759.7 162 757.2C166 754.7 171.1 751.8 174.8 749.6C178.5 747.4 182.8 745.1 184.4 744.2" stroke-width="2.9"/>
<path d="M166.8 760C168.7 758.7 175.2 754.3 178 752C180.8 749.7 182.8 747.2 183.8 746.2" stroke-width="2.9"/>
<path d="M167.6 780.4C168.8 779 172.3 774.1 174.8 772C177.3 769.9 180.1 768.8 182.8 767.6C185.5 766.4 187.7 766.7 190.8 764.8C193.9 762.9 199.5 757.8 201.2 756.4" stroke-width="2.9"/>
<path d="M188.8 786.4C189.7 784.3 191.8 777.9 194 773.6C196.2 769.3 199.3 763.5 202 760.8C204.7 758.1 207.3 757.3 210 757.2C212.7 757.1 216 759 218 760C220 761 221.3 762.7 222 763.2" stroke-width="2.9"/>
<path d="M189.2 803.2C189.7 801.2 190.9 794.8 192.4 791.2C193.9 787.6 195.7 784.5 198 781.6C200.3 778.7 203.3 775.6 206 773.6C208.7 771.6 211.6 771.2 214 769.6C216.4 768 219.3 764.9 220.4 764" stroke-width="2.9"/>
<path d="M204.4 758.4C205.5 758.2 208.8 757.1 210.8 757.2C212.8 757.3 215.5 758.5 216.4 758.8" stroke-width="2.9"/>
<path d="M209.2 778.4C209.6 777.7 210.9 775.5 211.6 774.4C212.3 773.3 213.1 772.4 213.4 772" stroke-width="2.4"/>
<path d="M212.5 735.5C213.5 736.8 217.2 740.2 218.5 743C219.8 745.8 220.1 749.5 220.3 752C220.6 754.5 219.3 756.6 220 758.3C220.7 760 223.8 761.6 224.5 762.2" stroke-width="2.9"/>
<path d="M206.5 752.9C207.8 752.8 211.9 751.9 214 752C216.1 752.1 218.4 753.2 219.2 753.5" stroke-width="2.9"/>
<path d="M224.5 761.8C226.2 761.1 230.8 760 235 758C239.2 756 245 752.8 250 749.8C255 746.8 260.5 742.8 265 740C269.5 737.2 273.9 735.2 277 733.2C280.1 731.2 282.4 729.4 283.8 728C285.1 726.6 284.6 725.5 284.8 725" stroke-width="2.9"/>
<path d="M190.3 801.5C191.5 802.8 194.8 806.8 197.5 809C200.2 811.2 203.5 813.6 206.5 815C209.5 816.4 212.5 817.8 215.5 817.2C218.5 816.8 221.2 814.1 224.5 812C227.8 809.9 231.2 807.2 235 804.5C238.8 801.8 243 798.8 247 795.5C251 792.2 255.2 788.5 259 785C262.8 781.5 266 778.2 269.5 774.5C273 770.8 278.2 764.5 280 762.5" stroke-width="2.9"/>
<path d="M278.5 767C279.5 769.5 282.8 778 284.5 782C286.2 786 288.5 788 289 791C289.5 794 289 797.2 287.5 800C286 802.8 283 805.5 280 807.5C277 809.5 273.2 811 269.5 812C265.8 813 261.2 812.8 257.5 813.5C253.8 814.2 250.8 815 247 816.5C243.2 818 239 820 235 822.5C231 825 226.8 828.8 223 831.5C219.2 834.2 215.8 837.2 212.5 839C209.2 840.8 207.2 841.8 203.5 842C199.8 842.2 194.2 841.4 190 840.5C185.8 839.6 181 837.8 178 836.8C175 835.8 173 834.9 172 834.5" stroke-width="2.9"/>
<path d="M281 762.8C282.5 763.3 287 765.2 290 765.8C293 766.4 296 766.2 299 766.4C302 766.6 306 766.5 308 767C310 767.5 309 769 311 769.4C313 769.8 317 768.9 320 769.4C323 769.9 326 771.1 329 772.4C332 773.7 336 775.6 338 777.2C340 778.8 340.7 780.7 341 782C341.3 783.3 340.8 784.4 339.8 785C338.8 785.6 336.8 785.9 335 785.6C333.2 785.3 331.5 784.6 329 783.2C326.5 781.8 322.5 778.8 320 777.2C317.5 775.6 315.5 774.8 314 773.6C312.5 772.4 311.5 770.6 311 770" stroke-width="2.9"/>
<path d="M312.8 770.3C314.5 770.5 319.8 770.6 323 771.5C326.2 772.4 329.4 774.2 332 775.5C334.6 776.8 337.5 778.7 338.6 779.3" stroke-width="4.2"/>
<path d="M314 773.6C315 774.8 318 778.4 320 780.8C322 783.2 324.2 786.1 326 788C327.8 789.9 329.6 791.9 330.8 792.2C332 792.5 333.1 790.7 333.3 789.8C333.5 788.9 333.2 788.1 332 786.8C330.8 785.5 328 783.6 326 782C324 780.4 321 778 320 777.2" stroke-width="2.9"/>
<path d="M297.2 777.2L302 776L305.6 776.1L307.4 778.4L311 777.8L312.2 780.8" stroke-width="3.4"/>
<path d="M299 779C300 779.9 303 782.6 305 784.4C307 786.2 309.5 788.2 311 789.8C312.5 791.4 313.9 792.9 314 794C314.1 795.1 312.7 796 311.6 796.4C310.5 796.8 308.8 797 307.4 796.4C306 795.8 304.6 794.1 303.2 792.8C301.8 791.5 300.8 789.6 299 788.6C297.2 787.6 293.5 787.1 292.4 786.8" stroke-width="2.9"/>
<path d="M305.6 782C306.6 782.6 310.2 784.3 311.6 785.6C313 786.9 313.6 789.1 314 789.8" stroke-width="2.9"/>
<path d="M281 764C281.7 766 283.5 772.2 285.2 776C286.9 779.8 290 783.8 291.2 786.8C292.4 789.8 292.4 791.8 292.4 794C292.4 796.2 291.4 799 291.2 800" stroke-width="2.9"/>
<path d="M340 778.2C342.5 778.6 350 779.5 355 780.5C360 781.5 366.2 782.8 370 784.2C373.8 785.8 375.5 786.9 377.5 789.5C379.5 792.1 380.5 795.8 382 800C383.5 804.2 385.4 810 386.5 815C387.6 820 388.2 825 388.8 830C389.2 835 389.3 841.2 389.5 845C389.7 848.8 389.8 851.2 389.8 852.5" stroke-width="2.9"/>
<path d="M388.8 850C388.9 853.8 389.4 864 389.8 872.5C390.2 881 390.8 896.2 391 901" stroke-width="2.9"/>
<path d="M301.8 826.7C303.6 824.6 309.1 817.7 313 813.8C316.9 809.9 321.5 806.2 325 803.3C328.5 800.4 332.5 797.5 334 796.4" stroke-width="4.2"/>
<path d="M319 828.5C320.8 827.5 326.2 824.5 329.5 822.8C332.8 821 337 818.8 338.5 818" stroke-width="2.9"/>
<path d="M313 832.4C315 832 320.5 831.2 325 830.3C329.5 829.4 335.5 828.8 340 827C344.5 825.2 348.8 821.9 352 819.8C355.2 817.7 358.2 815.2 359.5 814.2" stroke-width="2.9"/>
<path d="M278.5 824C281.2 825 289.2 828 295 830C300.8 832 306 833.8 313 836C320 838.2 330 841 337 843.5C344 846 350 848.5 355 851C360 853.5 363.3 855 367 858.5C370.7 862 374.2 867.2 377 872C379.8 876.8 381.8 882.3 384 887.5C386.2 892.7 388.4 897.8 390.5 903C392.6 908.2 394.7 913.3 396.5 919C398.3 924.7 400.2 932 401.5 937C402.8 942 403.6 945.9 404.5 949C405.4 952.1 406.8 954.4 407.2 955.5" stroke-width="2.9"/>
<path d="M316 834.5C318.5 834.6 327.6 834.8 331 835.2C334.4 835.8 335.2 836.4 336.2 837.5C337.3 838.6 337.1 841 337.3 841.7" stroke-width="2.9"/>
<path d="M179.5 838.2L182.5 852.5" stroke-width="2.9"/>
<path d="M181 850C181.8 852 183.5 858.2 185.5 862C187.5 865.8 189.8 869.5 193 872.5C196.2 875.5 200.5 878 205 880C209.5 882 215 883.2 220 884.2C225 885.2 228.8 885.3 235 886C241.2 886.7 250 887.5 257.5 888.2C265 889 273.2 889.5 280 890.2C286.8 891 293 891.8 298 892.8C303 893.7 306.5 894.9 310 895.8C313.5 896.6 317.5 897.6 319 898" stroke-width="2.9"/>
<path d="M214 876.2C217.5 875.6 228 874.2 235 872.5C242 870.8 252.5 866.9 256 865.8" stroke-width="2.9"/>
<path d="M224.5 884.5C227.5 883.2 236.2 879.6 242.5 877C248.8 874.4 256.6 871 262 868.8C267.4 866.5 272.6 864.6 274.8 863.8" stroke-width="2.9"/>
<path d="M161.5 872.5C160.9 875.2 158 884.8 157.8 889C157.5 893.2 158.6 895 160 898C161.4 901 163.5 904.5 166 907C168.5 909.5 171 911.9 175 913C179 914.1 182.5 914 190 913.8C197.5 913.5 210 912.4 220 911.5C230 910.6 240 909.5 250 908.5C260 907.5 271.5 906.5 280 905.5C288.5 904.5 296 903.5 301 902.5C306 901.5 307.8 900.5 310 899.5C312.2 898.5 313.8 897 314.5 896.5" stroke-width="2.9"/>
<path d="M164.5 906.2C165.5 907.9 168 913.4 170.5 916C173 918.6 175 920.8 179.5 921.7C184 922.7 189.5 922.2 197.5 921.7C205.5 921.2 217.5 920 227.5 919C237.5 918 247.5 917 257.5 916C267.5 915 279.5 914.1 287.5 913C295.5 911.9 301 911 305.5 909.2C310 907.5 312.2 904.5 314.5 902.5C316.8 900.5 318.2 898.1 319 897.2" stroke-width="2.9"/>
<path d="M310 896.5C312.5 896 320 895.1 325 893.5C330 891.9 335.2 889.2 340 886.8C344.8 884.2 351.2 879.9 353.5 878.5" stroke-width="2.9"/>
<path d="M320.5 898.8C323.2 898.5 331.9 898 337 897.2C342.1 896.5 348.9 894.8 351.2 894.2" stroke-width="2.9"/>
<path d="M326.5 902.5L332.8 902.8" stroke-width="2.9"/>
<path d="M337 907C335.5 907.4 330.2 908.2 328 909.2C325.8 910.2 323.8 911.6 323.5 913C323.2 914.4 324.8 914 326.5 917.5C328.2 921 331.4 928.4 334 934C336.6 939.6 340.9 948.4 342.2 951.2" stroke-width="2.9"/>
<path d="M618.5 732.5C621.2 732.8 628.5 732.2 635 734C641.5 735.8 650.5 739 657.5 743C664.5 747 671.2 751.5 677 758C682.8 764.5 688 773.8 692 782C696 790.2 698.7 799.5 701 807.5C703.3 815.5 705.1 822.9 706 830C706.9 837.1 707.3 841.7 706.5 850C705.7 858.3 703.1 872 701 880C698.9 888 696.3 893.7 694 898C691.7 902.3 689.8 904.3 687 906C684.2 907.7 678.7 907.7 677 908" stroke-width="2.9"/>
<path d="M502.5 722.7L463 723.5Q457.5 724.5 459.5 729.5L527 810.5Q532 815 542 813.5L647.7 798.3" stroke-width="3"/>
<path d="M458 734.5L524 813.8Q529.5 820.5 540 820.8L647 803.8" stroke-width="3"/>
<path d="M512 733L500.8 735.8L539 776.5L562 773.5" stroke-width="3"/>
<path d="M500.8 735.8L500.8 741.5L538.3 782.8L539 776.5M538.3 782.8L566 779.3" stroke-width="3"/>
<path d="M612.5 747.5L632.8 764L603 768M632.8 764L632.8 770L600.5 774.2" stroke-width="3"/>
<path d="M531.5 591.8L494.8 697.5Q492.5 709 500 716.8L576 790.7C580 795 584 799.5 589 798.8C594 798 595.5 793 597 789L652.5 644L646 640Z" fill="#fff" stroke-width="3.3"/>
<path d="M531.5 592.3L624 631.5" stroke-width="4.4"/>
<path d="M579 793C583 796.5 587 795.5 590 789L645.5 643.5" stroke-width="3.5"/>
<path d="M593.8 788L649 645" stroke-width="1"/>
<path d="M533.8 601.5L637 650.5L581.8 780.8L500 701Z" stroke-width="3.2" stroke-linejoin="miter"/>
<circle cx="645" cy="613.5" r="12.8" fill="#fff" stroke-width="2.2"/>
<ellipse cx="635.6" cy="614.6" rx="4.2" ry="9" fill="#000" stroke-width="1.5"/>
<path d="M635.8 606.5L635.8 622" stroke="#fff" stroke-width="1.3"/>
<rect x="-5.8" y="-10.8" width="11.6" height="21.6" rx="5.8" ry="5.8" transform="translate(629.6 634.6) rotate(24)" fill="#fff" stroke-width="2.9"/>
<path d="M640 634.5L653 629L656.8 631.5L650.5 642.5" stroke-width="2.7"/>
<path d="M639 638C639.2 637.4 639.6 635.4 640.5 634.5C641.4 633.6 643.2 632.4 644.5 632.5C645.8 632.6 647.4 634.6 648 635" stroke-width="2.6"/>
<path d="M641.5 639.5C642.1 639 644 636.4 645 636.5C646 636.6 647.1 639.4 647.5 640" stroke-width="2.6"/>
<path d="M591.6 857.3L649.8 858.8L650 982.6L591.6 983Z" fill="#fff" stroke-width="3" stroke-linejoin="miter"/>
<path d="M591.6 857.3L616 843.6L676 843.6L649.8 858.8" fill="#fff" stroke-width="3" stroke-linejoin="round"/>
<path d="M676 843.6L676 969L650 982.6" fill="none" stroke-width="3" stroke-linejoin="round"/>
<rect x="595.6" y="862.4" width="48.8" height="5.6" fill="#000" stroke="none"/>
<rect x="595.6" y="871.4" width="48.8" height="5.6" fill="#000" stroke="none"/>
<rect x="595.6" y="880.4" width="48.8" height="5.6" fill="#000" stroke="none"/>
<ellipse cx="619.4" cy="930.4" rx="6.8" ry="2.7" stroke-width="2.2"/>
<path d="M601 954Q620 962.5 638.6 953.6" stroke-width="2.3"/>
<path d="M601 960Q620 968.5 638.6 959.6" stroke-width="2.3"/>
<path d="M601 966Q620 974.5 638.6 965.6" stroke-width="2.3"/>
<path d="M658.5 610C659.2 609.3 661.2 606.8 663 606C664.8 605.2 667 604.7 669 605.5C671 606.3 673 609.1 675 611C677 612.9 679 615.7 681 617C683 618.3 685 619.2 687 619C689 618.8 691.4 617.2 693 616C694.6 614.8 695.9 612.2 696.5 611.5" stroke-width="2.2"/>
<path d="M630.5 702.5C631.2 701.9 633.2 699 635 698.8C636.8 698.5 639 699.5 641 701C643 702.5 645 705.9 647 707.8C649 709.6 651 711.5 653 712.2C655 713 657 713 659 712.2C661 711.5 664 708.5 665 707.8" stroke-width="2.2"/>
<path d="M677 942C678 941.3 680.8 938.3 683 938C685.2 937.7 687.5 938.3 690 940C692.5 941.7 695.3 946.3 698 948C700.7 949.7 703.5 951.1 706 950.4C708.5 949.7 711.8 945.1 713 944" stroke-width="2.2"/>
<path d="M87.5 562.5C88.8 561.8 92.5 558 95 558C97.5 558 100 560.5 102.5 562.5C105 564.5 107.3 568.5 110 570C112.7 571.5 116.2 572 118.8 571.2C121.2 570.5 124 566.5 125 565.5" stroke-width="2.2"/>
</g>
<g font-size="30.5" fill="#000" stroke="none" text-anchor="middle">
<text x="65.4" y="575">22</text>
<text x="717.3" y="622.7">24</text>
<text x="686.8" y="716.2">28</text>
<text x="734.5" y="955.2">26</text>
</g>
<g font-size="29.7" fill="#000" stroke="none" text-anchor="middle">
<text x="1324.2" y="587.9">22</text>
<text x="1959.8" y="634.4">24</text>
<text x="1930" y="725.6">28</text>
<text x="1976.5" y="958.6">26</text>
</g>

<path d="M244 582.5L240.7 601.3L247.8 597L349.7 761.7L342.7 766L361 771.5L364.3 752.7L357.2 757L255.3 592.3L262.3 588Z" fill="none" stroke="#000" stroke-width="3" stroke-linejoin="miter"/>
<path d="M290 562.5L391.8 711.8" stroke="#000" stroke-width="3.3" fill="none"/><path d="M399.7 723.4L383.8 714.9L397.5 705.5Z" fill="#000" stroke="none"/>
<g fill="none" stroke="#000" stroke-width="2.9" stroke-dasharray="2.2 5" stroke-linecap="round">
<path d="M261 671C261.7 668.5 263.5 661.2 265 656C266.5 650.8 268 645.3 270 640C272 634.7 274.8 628.7 277 624C279.2 619.3 281 615.5 283 612C285 608.5 287 605 289 603C291 601 294 600.5 295 600"/><path d="M299 603C298.5 604.8 297.2 610.2 296 614C294.8 617.8 293.2 622 292 626C290.8 630 289.7 634 289 638C288.3 642 288 645.7 288 650C288 654.3 289 660 289 664C289 668 289 670.8 288 674C287 677.2 285.2 680.5 283 683C280.8 685.5 276.3 688 275 689"/><path d="M278 622C279.2 619.7 283 611.3 285 608C287 604.7 289.2 603 290 602"/><path d="M283 623C283.8 621 286.3 614.3 288 611C289.7 607.7 292.2 604.3 293 603"/><path d="M288 638C288.8 635 292.3 622.7 292.5 620C292.7 617.3 289.6 621.7 289 622"/>
<path d="M315 752.5C315.7 750 317.5 742.7 319 737.5C320.5 732.3 322 726.8 324 721.5C326 716.2 328.8 710.2 331 705.5C333.2 700.8 335 697 337 693.5C339 690 341 686.5 343 684.5C345 682.5 348 682 349 681.5"/><path d="M353 684.5C352.5 686.3 351.2 691.7 350 695.5C348.8 699.3 347.2 703.5 346 707.5C344.8 711.5 343.7 715.5 343 719.5C342.3 723.5 342 727.2 342 731.5C342 735.8 343 741.5 343 745.5C343 749.5 343 752.3 342 755.5C341 758.7 339.2 762 337 764.5C334.8 767 330.3 769.5 329 770.5"/><path d="M332 703.5C333.2 701.2 337 692.8 339 689.5C341 686.2 343.2 684.5 344 683.5"/><path d="M337 704.5C337.8 702.5 340.3 695.8 342 692.5C343.7 689.2 346.2 685.8 347 684.5"/><path d="M342 719.5C342.8 716.5 346.3 704.2 346.5 701.5C346.7 698.8 343.6 703.2 343 703.5"/>
</g>
<ellipse cx="289.3" cy="607.2" rx="2.2" ry="3" transform="rotate(30 289.3 607.2)" fill="#000"/>
<ellipse cx="343.3" cy="688.7" rx="2.2" ry="3" transform="rotate(30 343.3 688.7)" fill="#000"/>
<g fill="none" stroke="#000" stroke-width="2.2" stroke-linecap="round">
<path d="M255 538.8C255.8 540 259.9 543.1 260 546.2C260.1 549.4 257.5 554 255.5 557.5C253.5 561 249.4 564.2 248 567.5C246.6 570.8 246.2 574.2 247 577C247.8 579.8 251.6 583.2 252.5 584.5"/>
<path d="M388.8 602C388.5 603.3 388.1 607.3 387.2 609.6C386.3 611.9 385.1 614.3 383.2 616C381.3 617.7 379.2 618.6 376 619.6C372.8 620.6 367.3 621.1 364 622C360.7 622.9 358.4 623.4 356 624.8C353.6 626.2 351.2 628.3 349.6 630.4C348 632.5 347 636.3 346.5 637.5"/>
</g>
<path d="M47.5 719.5C52.1 718.8 65.4 716.2 75 715C84.6 713.8 94.2 712.7 105 712.5C115.8 712.3 128.3 712.5 140 713.8C151.7 715 162.9 718.1 175 720C187.1 721.9 200 724 212.5 725C225 726 239.6 726.5 250 726.2C260.4 726 267 725 275 723.8C283 722.5 294.2 719.8 298 719" fill="none" stroke="#000" stroke-width="1.5"/>
<g font-size="30.5" fill="#000" text-anchor="middle">
<text x="253.7" y="535">50</text>
<text x="388.8" y="598.5">32</text>
<text x="25.9" y="730">30</text>
<text transform="translate(415.6 742.8) scale(0.84 1)" x="0" y="0">X</text>
</g>
<path d="M1575.4 658.5L1707 658.5" stroke="#000" stroke-width="3.1" fill="none"/><path d="M1720 658.5L1705 666.2L1705 650.8Z" fill="#000" stroke="none"/>
<path d="M1565 714L1579.3 726.4L1579.3 718.5L1705.7 718.5L1705.7 726.4L1720 714L1705.7 701.6L1705.7 709.5L1579.3 709.5L1579.3 701.6Z" fill="none" stroke="#000" stroke-width="2.9" stroke-linejoin="miter"/>
<g fill="none" stroke="#000" stroke-width="2.9" stroke-dasharray="2.2 5" stroke-linecap="round">
<path d="M1603 737C1603.8 734.2 1606.3 725.8 1608 720C1609.7 714.2 1611 707.7 1613 702C1615 696.3 1617.5 690.8 1620 686C1622.5 681.2 1625.3 675.9 1628 673C1630.7 670.1 1634.7 669.3 1636 668.6"/><path d="M1640 672C1639.3 674 1637.3 679.7 1636 684C1634.7 688.3 1633 693.7 1632 698C1631 702.3 1630 705.3 1630 710C1630 714.7 1631.8 721.3 1632 726C1632.2 730.7 1632 734.5 1631 738C1630 741.5 1628.3 744.3 1626 747C1623.7 749.7 1618.5 752.8 1617 754"/><path d="M1616 702C1617 699.3 1619.7 691 1622 686C1624.3 681 1628.7 674.3 1630 672"/><path d="M1621 703C1621.8 700.5 1623.8 693 1626 688C1628.2 683 1632.7 675.5 1634 673"/><path d="M1625 704C1625.8 701.7 1628.6 693.3 1630 690C1631.4 686.7 1633.2 684 1633.5 684C1633.8 684 1632.2 689 1632 690"/>
<path d="M1664.5 737C1665.3 734.2 1667.8 725.8 1669.5 720C1671.2 714.2 1672.5 707.7 1674.5 702C1676.5 696.3 1679 690.8 1681.5 686C1684 681.2 1686.8 675.9 1689.5 673C1692.2 670.1 1696.2 669.3 1697.5 668.6"/><path d="M1701.5 672C1700.8 674 1698.8 679.7 1697.5 684C1696.2 688.3 1694.5 693.7 1693.5 698C1692.5 702.3 1691.5 705.3 1691.5 710C1691.5 714.7 1693.3 721.3 1693.5 726C1693.7 730.7 1693.5 734.5 1692.5 738C1691.5 741.5 1689.8 744.3 1687.5 747C1685.2 749.7 1680 752.8 1678.5 754"/><path d="M1677.5 702C1678.5 699.3 1681.2 691 1683.5 686C1685.8 681 1690.2 674.3 1691.5 672"/><path d="M1682.5 703C1683.3 700.5 1685.3 693 1687.5 688C1689.7 683 1694.2 675.5 1695.5 673"/><path d="M1686.5 704C1687.3 701.7 1690.1 693.3 1691.5 690C1692.9 686.7 1694.7 684 1695 684C1695.3 684 1693.8 689 1693.5 690"/>
</g>
<ellipse cx="1632.5" cy="674.5" rx="2.2" ry="3" transform="rotate(30 1632.5 674.5)" fill="#000"/>
<ellipse cx="1694" cy="674.5" rx="2.2" ry="3" transform="rotate(30 1694 674.5)" fill="#000"/>
<g fill="none" stroke="#000" stroke-width="2.2" stroke-linecap="round">
<path d="M1669 631.9C1670.1 632.5 1674.8 634.2 1675.5 635.8C1676.2 637.4 1674.7 639.5 1672.9 641.6C1671.1 643.7 1666.1 646.2 1664.5 648.1C1662.9 650 1662.8 651.8 1663.2 653.3C1663.6 654.8 1666.4 656.6 1667 657.2"/>
<path d="M1534.5 654.6C1535.9 656.8 1541.4 663.7 1543 667.6C1544.6 671.5 1545.1 673 1544.2 678C1543.3 683 1539 692.1 1537.7 697.5C1536.4 702.9 1536 706.8 1536.4 710.5C1536.8 714.2 1538.6 717 1540.3 719.6C1542 722.2 1545.7 724.9 1546.8 726"/>
<path d="M1652 720C1653 721.7 1658 725.7 1658 730C1658 734.3 1653.3 741.3 1652 746C1650.7 750.7 1648.8 754.2 1650 758C1651.2 761.8 1657.5 767.2 1659 769"/>
</g>
<g font-size="28" fill="#000">
<text x="1654.5" y="626">36</text>
<text x="1519.5" y="649">30</text>
<text x="1645.5" y="794">40</text>
<text x="1725" y="666" font-size="29">Z</text>
</g>
</svg>
</body></html>
